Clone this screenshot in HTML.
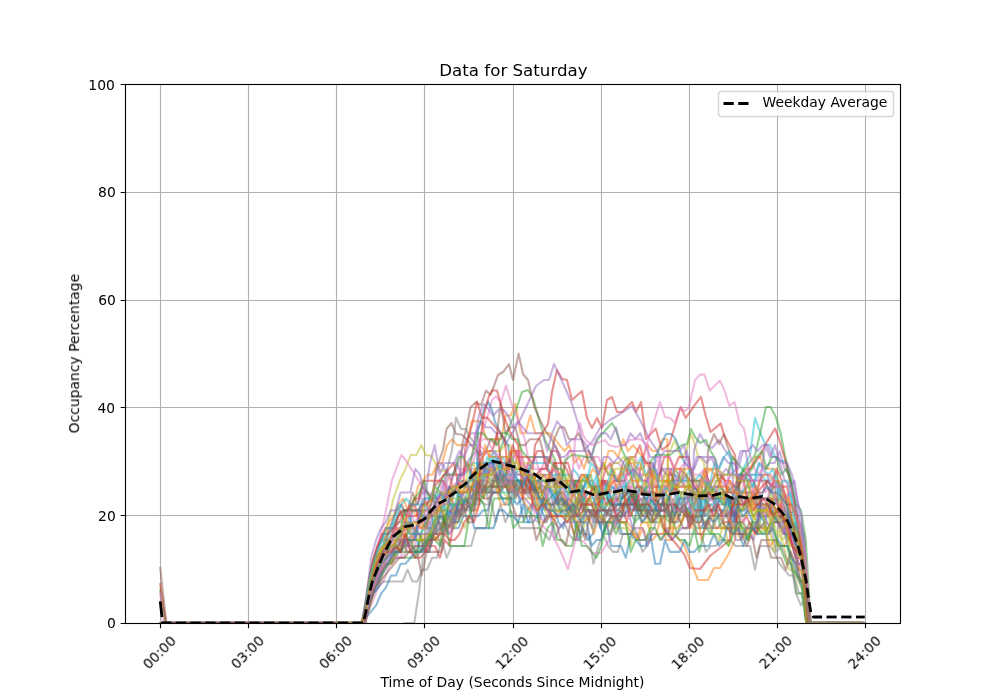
<!DOCTYPE html>
<html><head><meta charset="utf-8"><title>Data for Saturday</title><style>html,body{margin:0;padding:0;background:#fff;overflow:hidden}svg{display:block}text{will-change:transform}</style></head><body>
<svg width="1000" height="700" viewBox="0 0 1000 700">
<rect width="1000" height="700" fill="#fff"/>
<defs><clipPath id="ax"><rect x="125" y="84" width="775" height="539"/></clipPath></defs>
<path d="M160.5 84V623M248.5 84V623M336.5 84V623M424.5 84V623M513.5 84V623M601.5 84V623M689.5 84V623M777.5 84V623M865.5 84V623M125 192.5H900M125 300.5H900M125 407.5H900M125 515.5H900" fill="none" stroke="#b0b0b0" stroke-width="1.1111"/>
<path d="M160.5 623.5v4.8611M248.5 623.5v4.8611M336.5 623.5v4.8611M424.5 623.5v4.8611M513.5 623.5v4.8611M601.5 623.5v4.8611M689.5 623.5v4.8611M777.5 623.5v4.8611M865.5 623.5v4.8611M125.5 84.5h-4.8611M125.5 192.5h-4.8611M125.5 300.5h-4.8611M125.5 407.5h-4.8611M125.5 515.5h-4.8611M125.5 623.5h-4.8611" fill="none" stroke="#000" stroke-width="1.1111"/>
<g clip-path="url(#ax)" fill="none" stroke-width="2.0833" stroke-linecap="square" stroke-linejoin="round" stroke-opacity="0.5">
<polyline stroke="#1f77b4" points="164.90,623.00 169.80,623.00 174.69,623.00 179.58,623.00 184.48,623.00 189.37,623.00 194.26,623.00 199.15,623.00 204.05,623.00 208.94,623.00 213.83,623.00 218.72,623.00 223.62,623.00 228.51,623.00 233.40,623.00 238.29,623.00 243.19,623.00 248.08,623.00 252.97,623.00 257.87,623.00 262.76,623.00 267.65,623.00 272.54,623.00 277.44,623.00 282.33,623.00 287.22,623.00 292.11,623.00 297.01,623.00 301.90,623.00 306.79,623.00 311.68,623.00 316.58,623.00 321.47,623.00 326.36,623.00 331.26,623.00 336.15,623.00 341.04,623.00 345.93,623.00 350.83,623.00 355.72,623.00 360.61,623.00 365.50,623.00 370.40,581.50 375.29,557.78 380.18,551.85 385.08,539.99 389.97,539.99 394.86,534.07 399.75,528.14 404.65,528.14 409.54,522.21 414.43,528.14 419.32,534.07 424.22,551.85 429.11,551.85 434.00,534.07 438.89,528.14 443.79,522.21 448.68,534.07 453.57,528.14 458.47,528.14 463.36,516.28 468.25,516.28 473.14,516.28 478.04,516.28 482.93,510.35 487.82,510.35 492.71,492.56 497.61,492.56 502.50,498.49 507.39,498.49 512.28,498.49 517.18,504.42 522.07,498.49 526.96,510.35 531.86,504.42 536.75,504.42 541.64,510.35 546.53,522.21 551.43,510.35 556.32,510.35 561.21,510.35 566.10,516.28 571.00,516.28 575.89,522.21 580.78,534.07 585.67,510.35 590.57,510.35 595.46,510.35 600.35,528.14 605.25,510.35 610.14,510.35 615.03,528.14 619.92,510.35 624.82,516.28 629.71,498.49 634.60,510.35 639.49,504.42 644.39,504.42 649.28,510.35 654.17,510.35 659.07,498.49 663.96,498.49 668.85,498.49 673.74,486.63 678.64,492.56 683.53,492.56 688.42,522.21 693.31,492.56 698.21,498.49 703.10,492.56 707.99,486.63 712.88,498.49 717.78,504.42 722.67,492.56 727.56,492.56 732.46,486.63 737.35,486.63 742.24,480.70 747.13,480.70 752.03,498.49 756.92,498.49 761.81,498.49 766.70,498.49 771.60,498.49 776.49,516.28 781.38,516.28 786.27,539.99 791.17,557.78 796.06,563.71 800.95,581.50 805.85,581.50 810.74,623.00 815.63,623.00 820.52,623.00 825.42,623.00 830.31,623.00 835.20,623.00 840.09,623.00 844.99,623.00 849.88,623.00 854.77,623.00 859.66,623.00 864.56,623.00"/>
<polyline stroke="#ff7f0e" points="163.33,623.00 168.22,623.00 173.11,623.00 178.01,623.00 182.90,623.00 187.79,623.00 192.68,623.00 197.58,623.00 202.47,623.00 207.36,623.00 212.25,623.00 217.15,623.00 222.04,623.00 226.93,623.00 231.83,623.00 236.72,623.00 241.61,623.00 246.50,623.00 251.40,623.00 256.29,623.00 261.18,623.00 266.07,623.00 270.97,623.00 275.86,623.00 280.75,623.00 285.65,623.00 290.54,623.00 295.43,623.00 300.32,623.00 305.22,623.00 310.11,623.00 315.00,623.00 319.89,623.00 324.79,623.00 329.68,623.00 334.57,623.00 339.46,623.00 344.36,623.00 349.25,623.00 354.14,623.00 359.04,623.00 363.93,623.00 368.82,581.50 373.71,557.78 378.61,545.92 383.50,534.07 388.39,522.21 393.28,516.28 398.18,504.42 403.07,498.49 407.96,510.35 412.85,510.35 417.75,486.63 422.64,480.70 427.53,474.77 432.43,474.77 437.32,462.92 442.21,462.92 447.10,445.13 452.00,439.20 456.89,445.13 461.78,445.13 466.67,445.13 471.57,421.41 476.46,421.41 481.35,421.41 486.24,439.20 491.14,439.20 496.03,439.20 500.92,439.20 505.82,415.49 510.71,415.49 515.60,403.63 520.49,433.27 525.39,433.27 530.28,415.49 535.17,433.27 540.06,433.27 544.96,433.27 549.85,433.27 554.74,439.20 559.64,445.13 564.53,451.06 569.42,445.13 574.31,462.92 579.21,456.99 584.10,468.85 588.99,451.06 593.88,462.92 598.78,468.85 603.67,468.85 608.56,451.06 613.45,451.06 618.35,456.99 623.24,439.20 628.13,451.06 633.03,445.13 637.92,451.06 642.81,456.99 647.70,445.13 652.60,451.06 657.49,451.06 662.38,439.20 667.27,439.20 670.00,530.00 684.00,545.00 690.00,560.00 698.00,580.00 708.00,580.00 714.00,568.00 720.00,568.00 728.00,555.00 735.00,540.00 740.66,474.77 745.56,468.85 750.45,468.85 755.34,456.99 760.23,456.99 765.13,468.85 770.02,468.85 774.91,468.85 779.81,486.63 784.70,492.56 789.59,510.35 794.48,528.14 799.38,522.21 804.27,545.92 809.16,623.00 814.05,623.00 818.95,623.00 823.84,623.00 828.73,623.00 833.62,623.00 838.52,623.00 843.41,623.00 848.30,623.00 853.20,623.00 858.09,623.00 862.98,623.00"/>
<polyline stroke="#2ca02c" points="160.23,590.12 165.36,623.00 170.26,623.00 175.15,623.00 180.04,623.00 184.94,623.00 189.83,623.00 194.72,623.00 199.61,623.00 204.51,623.00 209.40,623.00 214.29,623.00 219.18,623.00 224.08,623.00 228.97,623.00 233.86,623.00 238.75,623.00 243.65,623.00 248.54,623.00 253.43,623.00 258.33,623.00 263.22,623.00 268.11,623.00 273.00,623.00 277.90,623.00 282.79,623.00 287.68,623.00 292.57,623.00 297.47,623.00 302.36,623.00 307.25,623.00 312.14,623.00 317.04,623.00 321.93,623.00 326.82,623.00 331.72,623.00 336.61,623.00 341.50,623.00 346.39,623.00 351.29,623.00 356.18,623.00 361.07,623.00 365.96,617.07 370.86,593.36 375.75,581.50 380.64,569.64 385.54,563.71 390.43,563.71 395.32,557.78 400.21,557.78 405.11,557.78 410.00,557.78 414.89,557.78 419.78,539.99 424.68,539.99 429.57,539.99 434.46,528.14 439.35,522.21 444.25,528.14 449.14,498.49 454.03,516.28 458.93,498.49 463.82,492.56 468.71,492.56 473.60,486.63 478.50,486.63 483.39,468.85 488.28,468.85 493.17,468.85 498.07,486.63 500.00,450.00 508.00,430.00 516.00,410.00 522.00,392.00 528.00,390.00 533.00,398.00 538.00,416.00 545.00,440.00 555.00,460.00 556.78,492.56 561.67,516.28 566.56,516.28 571.46,510.35 576.35,498.49 581.24,522.21 586.13,504.42 591.03,504.42 595.92,510.35 600.81,510.35 605.71,534.07 610.60,534.07 615.49,516.28 620.38,516.28 625.28,504.42 630.17,510.35 635.06,522.21 639.95,516.28 644.85,504.42 649.74,522.21 654.63,522.21 659.52,522.21 664.42,516.28 669.31,522.21 674.20,504.42 679.10,516.28 683.99,504.42 688.88,510.35 693.77,516.28 698.67,510.35 703.56,492.56 708.45,492.56 713.34,498.49 718.24,498.49 723.13,504.42 728.02,504.42 732.92,516.28 737.81,510.35 742.70,534.07 747.59,539.99 752.49,528.14 757.38,534.07 762.27,510.35 767.16,539.99 772.06,539.99 776.95,539.99 781.84,551.85 786.73,563.71 791.63,563.71 796.52,593.36 801.41,593.36 806.31,623.00 811.20,623.00 816.09,623.00 820.98,623.00 825.88,623.00 830.77,623.00 835.66,623.00 840.55,623.00 845.45,623.00 850.34,623.00 855.23,623.00 860.12,623.00"/>
<polyline stroke="#d62728" points="160.23,584.19 165.94,623.00 170.83,623.00 175.72,623.00 180.61,623.00 185.51,623.00 190.40,623.00 195.29,623.00 200.18,623.00 205.08,623.00 209.97,623.00 214.86,623.00 219.75,623.00 224.65,623.00 229.54,623.00 234.43,623.00 239.33,623.00 244.22,623.00 249.11,623.00 254.00,623.00 258.90,623.00 263.79,623.00 268.68,623.00 273.57,623.00 278.47,623.00 283.36,623.00 288.25,623.00 293.14,623.00 298.04,623.00 302.93,623.00 307.82,623.00 312.72,623.00 317.61,623.00 322.50,623.00 327.39,623.00 332.29,623.00 337.18,623.00 342.07,623.00 346.96,623.00 351.86,623.00 356.75,623.00 361.64,623.00 366.54,605.21 371.43,575.57 376.32,557.78 381.21,551.85 386.11,545.92 391.00,539.99 395.89,528.14 400.78,534.07 405.68,528.14 410.57,534.07 415.46,534.07 420.35,534.07 425.25,551.85 430.14,545.92 435.03,545.92 439.93,557.78 444.82,539.99 449.71,545.92 454.60,516.28 459.50,504.42 464.39,504.42 469.28,504.42 474.17,504.42 479.07,474.77 483.96,498.49 488.85,498.49 493.74,492.56 498.64,492.56 503.53,480.70 508.42,492.56 513.32,480.70 518.21,486.63 523.10,480.70 527.99,462.92 532.89,468.85 535.00,445.00 548.00,424.00 552.00,392.00 557.00,370.00 562.00,379.00 567.00,380.00 572.00,400.00 582.00,391.00 587.00,418.00 592.00,428.00 597.00,418.00 602.00,428.00 607.00,400.00 612.00,397.00 617.00,412.00 622.00,412.00 632.00,402.00 636.00,412.00 641.00,402.00 646.00,439.00 655.70,428.50 662.00,450.00 669.40,444.00 680.60,407.00 685.70,418.00 695.00,404.60 701.00,396.80 705.40,414.80 710.50,432.00 720.80,423.40 724.00,435.00 735.00,455.00 738.38,486.63 743.27,474.77 748.16,480.70 753.06,480.70 757.95,492.56 762.84,492.56 767.73,480.70 772.63,486.63 777.52,486.63 782.41,486.63 787.31,486.63 792.20,522.21 797.09,528.14 801.98,545.92 806.88,623.00 811.77,623.00 816.66,623.00 821.55,623.00 826.45,623.00 831.34,623.00 836.23,623.00 841.12,623.00 846.02,623.00 850.91,623.00 855.80,623.00 860.70,623.00"/>
<polyline stroke="#9467bd" points="163.15,623.00 168.04,623.00 172.94,623.00 177.83,623.00 182.72,623.00 187.61,623.00 192.51,623.00 197.40,623.00 202.29,623.00 207.18,623.00 212.08,623.00 216.97,623.00 221.86,623.00 226.76,623.00 231.65,623.00 236.54,623.00 241.43,623.00 246.33,623.00 251.22,623.00 256.11,623.00 261.00,623.00 265.90,623.00 270.79,623.00 275.68,623.00 280.57,623.00 285.47,623.00 290.36,623.00 295.25,623.00 300.15,623.00 305.04,623.00 309.93,623.00 314.82,623.00 319.72,623.00 324.61,623.00 329.50,623.00 334.39,623.00 339.29,623.00 344.18,623.00 349.07,623.00 353.96,623.00 358.86,623.00 363.75,623.00 368.64,605.21 373.54,587.43 378.43,575.57 383.32,563.71 388.21,551.85 393.11,551.85 398.00,551.85 402.89,528.14 407.78,522.21 412.68,504.42 417.57,504.42 422.46,492.56 427.36,492.56 432.25,498.49 437.14,468.85 442.03,462.92 446.93,474.77 451.82,474.77 456.71,468.85 461.60,451.06 466.50,439.20 471.39,433.27 476.28,433.27 481.17,421.41 486.07,427.34 490.96,427.34 495.85,433.27 500.75,433.27 505.00,445.00 520.00,420.00 536.00,386.00 544.00,380.00 549.00,380.00 554.00,364.00 560.00,377.00 566.00,390.00 572.00,404.00 580.00,430.00 584.00,450.00 592.00,442.00 600.00,428.00 610.00,420.00 620.00,414.00 632.00,406.00 640.00,420.00 650.00,440.00 660.00,455.00 662.20,480.70 667.10,480.70 671.99,486.63 676.88,486.63 681.77,486.63 686.67,486.63 691.56,492.56 696.45,492.56 701.34,492.56 706.24,492.56 711.13,492.56 716.02,480.70 720.92,480.70 725.81,486.63 730.70,474.77 735.59,474.77 740.49,474.77 745.38,474.77 750.27,474.77 755.16,474.77 760.06,462.92 764.95,468.85 769.84,462.92 774.74,462.92 779.63,451.06 784.52,468.85 789.41,474.77 794.31,498.49 799.20,522.21 804.09,534.07 808.98,623.00 813.88,623.00 818.77,623.00 823.66,623.00 828.55,623.00 833.45,623.00 838.34,623.00 843.23,623.00 848.13,623.00 853.02,623.00 857.91,623.00 862.80,623.00"/>
<polyline stroke="#8c564b" points="160.23,568.02 166.34,623.00 171.24,623.00 176.13,623.00 181.02,623.00 185.91,623.00 190.81,623.00 195.70,623.00 200.59,623.00 205.48,623.00 210.38,623.00 215.27,623.00 220.16,623.00 225.06,623.00 229.95,623.00 234.84,623.00 239.73,623.00 244.63,623.00 249.52,623.00 254.41,623.00 259.30,623.00 264.20,623.00 269.09,623.00 273.98,623.00 278.87,623.00 283.77,623.00 288.66,623.00 293.55,623.00 298.45,623.00 303.34,623.00 308.23,623.00 313.12,623.00 318.02,623.00 322.91,623.00 327.80,623.00 332.69,623.00 337.59,623.00 342.48,623.00 347.37,623.00 352.26,623.00 357.16,623.00 362.05,623.00 366.94,599.28 371.84,569.64 376.73,557.78 381.62,551.85 386.51,545.92 391.41,539.99 396.30,539.99 401.19,534.07 406.08,522.21 410.98,528.14 415.87,528.14 420.76,522.21 425.65,528.14 430.55,510.35 435.44,534.07 440.33,510.35 445.23,498.49 450.12,486.63 455.01,492.56 459.90,480.70 462.00,445.00 466.00,430.00 470.50,407.50 475.50,402.50 481.00,405.00 486.00,390.50 490.50,395.00 494.00,386.00 498.00,375.00 503.00,372.00 509.00,364.00 513.00,380.00 518.60,353.60 523.00,374.00 528.00,380.00 534.00,406.00 540.00,420.00 545.00,430.00 552.00,440.00 560.00,455.00 562.65,486.63 567.54,492.56 572.44,492.56 577.33,492.56 582.22,510.35 587.11,504.42 592.01,504.42 596.90,498.49 601.79,498.49 606.68,498.49 611.58,504.42 616.47,486.63 621.36,498.49 626.25,492.56 631.15,492.56 636.04,510.35 640.93,510.35 645.83,504.42 650.72,486.63 655.61,486.63 660.50,486.63 665.40,510.35 670.29,492.56 675.18,486.63 680.07,492.56 684.97,492.56 689.86,486.63 694.75,486.63 699.64,492.56 704.54,492.56 709.43,498.49 714.32,498.49 719.22,498.49 724.11,498.49 729.00,498.49 733.89,516.28 738.79,492.56 743.68,498.49 748.57,504.42 753.46,492.56 758.36,516.28 763.25,510.35 768.14,516.28 773.04,504.42 777.93,516.28 782.82,516.28 787.71,534.07 792.61,545.92 797.50,563.71 802.39,563.71 807.28,623.00 812.18,623.00 817.07,623.00 821.96,623.00 826.85,623.00 831.75,623.00 836.64,623.00 841.53,623.00 846.43,623.00 851.32,623.00 856.21,623.00 861.10,623.00"/>
<polyline stroke="#e377c2" points="160.23,593.36 163.08,623.00 167.97,623.00 172.87,623.00 177.76,623.00 182.65,623.00 187.54,623.00 192.44,623.00 197.33,623.00 202.22,623.00 207.12,623.00 212.01,623.00 216.90,623.00 221.79,623.00 226.69,623.00 231.58,623.00 236.47,623.00 241.36,623.00 246.26,623.00 251.15,623.00 256.04,623.00 260.93,623.00 265.83,623.00 270.72,623.00 275.61,623.00 280.51,623.00 285.40,623.00 290.29,623.00 295.18,623.00 300.08,623.00 304.97,623.00 309.86,623.00 314.75,623.00 319.65,623.00 324.54,623.00 329.43,623.00 334.33,623.00 339.22,623.00 344.11,623.00 349.00,623.00 353.90,623.00 358.79,623.00 363.68,623.00 368.57,611.14 373.47,599.28 378.36,587.43 383.25,581.50 388.14,569.64 393.04,557.78 397.93,557.78 402.82,557.78 407.72,545.92 412.61,534.07 417.50,551.85 422.39,551.85 427.29,539.99 432.18,528.14 437.07,528.14 441.96,510.35 446.86,510.35 451.75,498.49 456.64,510.35 461.53,492.56 466.43,498.49 471.32,498.49 476.21,486.63 480.00,440.00 488.00,415.00 492.00,400.00 496.00,396.50 501.00,402.00 506.00,385.50 512.00,405.00 518.00,420.00 525.00,440.00 530.03,468.85 534.92,468.85 539.82,468.85 544.71,468.85 549.60,456.99 554.50,462.92 559.39,480.70 564.28,468.85 569.17,451.06 574.07,451.06 578.96,468.85 583.85,456.99 588.74,456.99 593.64,456.99 598.53,456.99 603.42,468.85 608.31,468.85 613.21,462.92 618.10,462.92 622.99,468.85 627.89,468.85 632.78,474.77 637.67,468.85 642.56,480.70 647.46,480.70 652.35,474.77 657.24,456.99 662.13,480.70 667.03,468.85 671.92,474.77 676.81,486.63 681.71,486.63 686.60,480.70 691.49,480.70 696.38,486.63 701.28,486.63 706.17,474.77 711.06,486.63 715.95,492.56 720.85,492.56 725.74,492.56 730.63,462.92 735.52,462.92 740.42,498.49 745.31,474.77 750.20,474.77 755.10,504.42 759.99,504.42 764.88,516.28 769.77,486.63 774.67,480.70 779.56,492.56 784.45,510.35 789.34,522.21 794.24,539.99 799.13,557.78 804.02,563.71 808.91,623.00 813.81,623.00 818.70,623.00 823.59,623.00 828.49,623.00 833.38,623.00 838.27,623.00 843.16,623.00 848.06,623.00 852.95,623.00 857.84,623.00"/>
<polyline stroke="#7f7f7f" points="162.93,623.00 167.82,623.00 172.71,623.00 177.60,623.00 182.50,623.00 187.39,623.00 192.28,623.00 197.17,623.00 202.07,623.00 206.96,623.00 211.85,623.00 216.75,623.00 221.64,623.00 226.53,623.00 231.42,623.00 236.32,623.00 241.21,623.00 246.10,623.00 250.99,623.00 255.89,623.00 260.78,623.00 265.67,623.00 270.57,623.00 275.46,623.00 280.35,623.00 285.24,623.00 290.14,623.00 295.03,623.00 299.92,623.00 304.81,623.00 309.71,623.00 314.60,623.00 319.49,623.00 324.38,623.00 329.28,623.00 334.17,623.00 339.06,623.00 343.96,623.00 348.85,623.00 353.74,623.00 358.63,623.00 363.53,623.00 368.42,605.21 373.31,593.36 378.20,587.43 383.10,581.50 387.99,581.50 392.88,581.50 397.77,581.50 402.67,581.50 407.56,569.64 412.45,581.50 417.35,581.50 422.24,569.64 427.13,569.64 432.02,557.78 436.92,557.78 441.81,539.99 446.70,557.78 451.59,545.92 456.49,545.92 461.38,545.92 466.27,545.92 471.16,545.92 476.06,528.14 480.95,528.14 485.84,528.14 490.74,498.49 495.63,522.21 500.52,504.42 505.41,522.21 510.31,510.35 515.20,516.28 520.09,528.14 524.98,528.14 529.88,528.14 534.77,528.14 539.66,528.14 544.55,534.07 549.45,539.99 554.34,522.21 559.23,528.14 564.13,522.21 569.02,534.07 573.91,539.99 578.80,539.99 583.70,534.07 588.59,534.07 593.48,563.71 598.37,545.92 603.27,534.07 608.16,545.92 613.05,551.85 617.95,551.85 622.84,534.07 627.73,534.07 632.62,534.07 637.52,534.07 642.41,551.85 647.30,545.92 652.19,534.07 657.09,534.07 661.98,534.07 666.87,534.07 671.76,539.99 676.66,534.07 681.55,534.07 686.44,534.07 691.34,534.07 696.23,534.07 701.12,534.07 706.01,551.85 710.91,545.92 715.80,545.92 720.69,539.99 725.58,539.99 730.48,539.99 735.37,545.92 740.26,545.92 745.15,545.92 750.05,545.92 754.94,569.64 759.83,545.92 764.73,545.92 769.62,545.92 774.51,551.85 779.40,563.71 784.30,569.64 789.19,575.57 794.08,575.57 798.97,593.36 803.87,593.36 808.76,623.00 813.65,623.00 818.54,623.00 823.44,623.00 828.33,623.00 833.22,623.00 838.12,623.00 843.01,623.00 847.90,623.00 852.79,623.00 857.69,623.00 862.58,623.00"/>
<polyline stroke="#bcbd22" points="162.58,623.00 167.47,623.00 172.36,623.00 177.25,623.00 182.15,623.00 187.04,623.00 191.93,623.00 196.82,623.00 201.72,623.00 206.61,623.00 211.50,623.00 216.40,623.00 221.29,623.00 226.18,623.00 231.07,623.00 235.97,623.00 240.86,623.00 245.75,623.00 250.64,623.00 255.54,623.00 260.43,623.00 265.32,623.00 270.21,623.00 275.11,623.00 280.00,623.00 284.89,623.00 289.79,623.00 294.68,623.00 299.57,623.00 304.46,623.00 309.36,623.00 314.25,623.00 319.14,623.00 324.03,623.00 328.93,623.00 333.82,623.00 338.71,623.00 343.61,623.00 348.50,623.00 353.39,623.00 358.28,623.00 363.18,623.00 368.07,599.28 372.20,590.00 385.00,540.00 392.90,500.00 400.00,480.00 405.00,470.00 410.70,455.00 416.40,455.00 421.40,445.00 425.70,455.00 431.40,455.70 435.70,464.00 440.00,470.00 445.70,471.40 455.00,490.00 456.14,492.56 461.03,492.56 465.92,492.56 470.81,492.56 475.71,474.77 480.60,462.92 485.49,474.77 490.39,451.06 495.28,451.06 500.17,451.06 505.06,445.13 509.96,445.13 514.85,468.85 519.74,445.13 524.63,468.85 529.53,468.85 534.42,480.70 539.31,480.70 544.20,480.70 549.10,480.70 553.99,486.63 558.88,474.77 563.78,468.85 568.67,486.63 573.56,480.70 578.45,492.56 583.35,492.56 588.24,486.63 593.13,486.63 598.02,492.56 602.92,480.70 607.81,486.63 612.70,492.56 617.60,492.56 622.49,510.35 627.38,486.63 632.27,480.70 637.17,510.35 642.06,522.21 646.95,522.21 651.84,522.21 656.74,504.42 661.63,504.42 666.52,498.49 671.41,528.14 676.31,510.35 681.20,510.35 686.09,516.28 690.99,516.28 695.88,516.28 700.77,516.28 705.66,522.21 710.56,516.28 715.45,516.28 720.34,516.28 725.23,528.14 730.13,522.21 735.02,528.14 739.91,528.14 744.80,528.14 749.70,528.14 754.59,516.28 759.48,534.07 764.38,528.14 769.27,528.14 774.16,551.85 779.05,534.07 783.95,545.92 788.84,569.64 793.73,569.64 798.62,581.50 803.52,593.36 808.41,623.00 813.30,623.00 818.19,623.00 823.09,623.00 827.98,623.00 832.87,623.00 837.77,623.00 842.66,623.00 847.55,623.00 852.44,623.00 857.34,623.00 862.23,623.00"/>
<polyline stroke="#17becf" points="162.05,623.00 166.95,623.00 171.84,623.00 176.73,623.00 181.63,623.00 186.52,623.00 191.41,623.00 196.30,623.00 201.20,623.00 206.09,623.00 210.98,623.00 215.87,623.00 220.77,623.00 225.66,623.00 230.55,623.00 235.44,623.00 240.34,623.00 245.23,623.00 250.12,623.00 255.02,623.00 259.91,623.00 264.80,623.00 269.69,623.00 274.59,623.00 279.48,623.00 284.37,623.00 289.26,623.00 294.16,623.00 299.05,623.00 303.94,623.00 308.83,623.00 313.73,623.00 318.62,623.00 323.51,623.00 328.41,623.00 333.30,623.00 338.19,623.00 343.08,623.00 347.98,623.00 352.87,623.00 357.76,623.00 362.65,623.00 367.55,593.36 372.44,569.64 377.33,551.85 382.22,545.92 387.12,539.99 392.01,534.07 396.90,522.21 401.80,522.21 406.69,510.35 411.58,522.21 416.47,522.21 421.37,516.28 426.26,516.28 431.15,510.35 436.04,510.35 440.94,504.42 445.83,504.42 450.72,498.49 455.62,516.28 460.51,498.49 465.40,510.35 470.29,504.42 475.19,504.42 480.08,504.42 484.97,468.85 489.86,474.77 494.76,456.99 499.65,468.85 504.54,462.92 509.43,462.92 514.33,474.77 519.22,468.85 524.11,480.70 529.01,480.70 533.90,480.70 538.79,498.49 543.68,492.56 548.58,480.70 553.47,480.70 558.36,480.70 563.25,504.42 568.15,492.56 573.04,468.85 577.93,474.77 582.82,492.56 587.72,474.77 592.61,492.56 597.50,480.70 602.40,480.70 607.29,486.63 612.18,486.63 617.07,492.56 621.97,468.85 626.86,486.63 631.75,498.49 636.64,486.63 641.54,492.56 646.43,486.63 651.32,486.63 656.21,486.63 661.11,486.63 666.00,480.70 670.89,480.70 675.79,474.77 680.68,480.70 685.57,480.70 690.46,480.70 695.36,480.70 700.25,492.56 705.14,492.56 710.03,492.56 714.93,486.63 719.82,486.63 724.71,492.56 729.60,504.42 734.50,504.42 740.00,475.00 750.00,455.00 755.00,418.00 760.00,432.00 765.40,444.80 769.70,444.80 775.70,457.70 780.80,461.00 786.00,461.00 792.00,490.00 802.60,545.00 807.89,623.00 812.78,623.00 817.67,623.00 822.57,623.00 827.46,623.00 832.35,623.00 837.24,623.00 842.14,623.00 847.03,623.00 851.92,623.00 856.81,623.00 861.71,623.00"/>
<polyline stroke="#1f77b4" points="163.09,623.00 167.98,623.00 172.87,623.00 177.76,623.00 182.66,623.00 187.55,623.00 192.44,623.00 197.33,623.00 202.23,623.00 207.12,623.00 212.01,623.00 216.91,623.00 221.80,623.00 226.69,623.00 231.58,623.00 236.48,623.00 241.37,623.00 246.26,623.00 251.15,623.00 256.05,623.00 260.94,623.00 265.83,623.00 270.72,623.00 275.62,623.00 280.51,623.00 285.40,623.00 290.30,623.00 295.19,623.00 300.08,623.00 304.97,623.00 309.87,623.00 314.76,623.00 319.65,623.00 324.54,623.00 329.44,623.00 334.33,623.00 339.22,623.00 344.11,623.00 349.01,623.00 353.90,623.00 358.79,623.00 363.69,623.00 368.58,605.21 373.47,593.36 378.36,587.43 383.26,569.64 388.15,563.71 393.04,551.85 397.93,545.92 402.83,539.99 407.72,534.07 412.61,510.35 417.51,510.35 422.40,504.42 427.29,504.42 432.18,492.56 437.08,498.49 441.97,498.49 446.86,492.56 451.75,492.56 456.65,492.56 461.54,486.63 466.43,486.63 471.32,474.77 476.22,492.56 478.00,430.00 484.00,410.00 488.00,401.50 492.00,410.00 495.00,422.00 500.00,432.00 508.00,445.00 510.47,462.92 515.36,480.70 520.25,480.70 525.14,492.56 530.04,486.63 534.93,492.56 539.82,504.42 544.71,510.35 549.61,486.63 554.50,492.56 559.39,510.35 564.29,504.42 569.18,510.35 574.07,504.42 578.96,510.35 583.86,498.49 588.75,492.56 593.64,498.49 598.53,516.28 603.43,480.70 608.32,492.56 613.21,486.63 618.10,504.42 623.00,504.42 627.89,504.42 632.78,510.35 637.68,504.42 642.57,516.28 647.46,510.35 652.35,516.28 657.25,504.42 662.14,492.56 667.03,486.63 671.92,480.70 676.82,504.42 681.71,510.35 686.60,510.35 691.49,504.42 696.39,510.35 701.28,492.56 706.17,504.42 711.07,498.49 715.96,498.49 720.85,498.49 725.74,498.49 730.64,498.49 735.53,498.49 740.42,492.56 745.31,492.56 750.21,492.56 755.10,492.56 759.99,516.28 764.89,522.21 769.78,504.42 774.67,522.21 779.56,522.21 784.46,522.21 789.35,510.35 794.24,539.99 799.13,545.92 804.03,557.78 808.92,623.00 813.81,623.00 818.70,623.00 823.60,623.00 828.49,623.00 833.38,623.00 838.28,623.00 843.17,623.00 848.06,623.00 852.95,623.00 857.85,623.00 862.74,623.00"/>
<polyline stroke="#ff7f0e" points="162.20,623.00 167.10,623.00 171.99,623.00 176.88,623.00 181.78,623.00 186.67,623.00 191.56,623.00 196.45,623.00 201.35,623.00 206.24,623.00 211.13,623.00 216.02,623.00 220.92,623.00 225.81,623.00 230.70,623.00 235.59,623.00 240.49,623.00 245.38,623.00 250.27,623.00 255.17,623.00 260.06,623.00 264.95,623.00 269.84,623.00 274.74,623.00 279.63,623.00 284.52,623.00 289.41,623.00 294.31,623.00 299.20,623.00 304.09,623.00 308.99,623.00 313.88,623.00 318.77,623.00 323.66,623.00 328.56,623.00 333.45,623.00 338.34,623.00 343.23,623.00 348.13,623.00 353.02,623.00 357.91,623.00 362.80,623.00 367.70,611.14 372.59,593.36 377.48,581.50 382.38,569.64 387.27,563.71 392.16,563.71 397.05,551.85 401.95,539.99 406.84,545.92 411.73,545.92 416.62,522.21 421.52,528.14 426.41,516.28 431.30,516.28 436.19,516.28 441.09,504.42 445.98,504.42 450.87,498.49 455.77,510.35 460.66,480.70 465.55,480.70 470.44,480.70 475.34,468.85 480.23,480.70 485.12,480.70 490.01,468.85 494.91,474.77 499.80,480.70 504.69,480.70 509.58,480.70 514.48,492.56 519.37,486.63 524.26,492.56 529.16,486.63 534.05,498.49 538.94,498.49 543.83,504.42 548.73,504.42 553.62,522.21 558.51,510.35 563.40,510.35 568.30,510.35 573.19,516.28 578.08,522.21 582.97,510.35 587.87,510.35 592.76,516.28 597.65,516.28 602.55,516.28 607.44,528.14 612.33,516.28 617.22,516.28 622.12,522.21 627.01,522.21 631.90,528.14 636.79,539.99 641.69,522.21 646.58,522.21 651.47,534.07 656.37,534.07 661.26,516.28 666.15,539.99 671.04,539.99 675.94,516.28 680.83,522.21 685.72,510.35 690.61,516.28 695.51,522.21 700.40,522.21 705.29,510.35 710.18,510.35 715.08,510.35 719.97,516.28 724.86,510.35 729.76,522.21 734.65,528.14 739.54,510.35 744.43,504.42 749.33,510.35 754.22,516.28 759.11,510.35 764.00,510.35 768.90,510.35 773.79,516.28 778.68,516.28 783.57,516.28 788.47,528.14 793.36,522.21 798.25,551.85 803.15,551.85 808.04,623.00 812.93,623.00 817.82,623.00 822.72,623.00 827.61,623.00 832.50,623.00 837.39,623.00 842.29,623.00 847.18,623.00 852.07,623.00 856.96,623.00 861.86,623.00"/>
<polyline stroke="#2ca02c" points="163.11,623.00 168.00,623.00 172.90,623.00 177.79,623.00 182.68,623.00 187.58,623.00 192.47,623.00 197.36,623.00 202.25,623.00 207.15,623.00 212.04,623.00 216.93,623.00 221.82,623.00 226.72,623.00 231.61,623.00 236.50,623.00 241.40,623.00 246.29,623.00 251.18,623.00 256.07,623.00 260.97,623.00 265.86,623.00 270.75,623.00 275.64,623.00 280.54,623.00 285.43,623.00 290.32,623.00 295.21,623.00 300.11,623.00 305.00,623.00 309.89,623.00 314.79,623.00 319.68,623.00 324.57,623.00 329.46,623.00 334.36,623.00 339.25,623.00 344.14,623.00 349.03,623.00 353.93,623.00 358.82,623.00 363.71,623.00 368.60,599.28 373.50,587.43 378.39,575.57 383.28,569.64 388.18,563.71 393.07,557.78 397.96,551.85 402.85,551.85 407.75,551.85 412.64,551.85 417.53,551.85 422.42,528.14 427.32,522.21 432.21,510.35 437.10,498.49 441.99,510.35 446.89,510.35 451.78,492.56 456.67,492.56 461.57,504.42 466.46,504.42 471.35,486.63 476.24,498.49 481.14,480.70 486.03,474.77 490.92,480.70 495.81,480.70 500.71,492.56 505.60,468.85 510.49,492.56 515.39,480.70 520.28,480.70 525.17,480.70 530.06,474.77 534.96,492.56 539.85,486.63 544.74,504.42 549.63,498.49 554.53,492.56 559.42,492.56 564.31,492.56 569.20,510.35 574.10,510.35 578.99,492.56 583.88,498.49 588.78,510.35 593.67,510.35 598.56,498.49 603.45,510.35 608.35,504.42 613.24,498.49 618.13,498.49 623.02,498.49 627.92,492.56 632.81,492.56 637.70,510.35 642.59,510.35 647.49,504.42 652.38,510.35 657.27,516.28 662.17,516.28 667.06,516.28 671.95,516.28 676.84,534.07 681.74,522.21 686.63,510.35 691.52,516.28 696.41,528.14 701.31,528.14 706.20,528.14 711.09,534.07 715.98,510.35 720.88,528.14 725.77,528.14 730.66,528.14 735.56,528.14 740.00,475.00 755.00,455.00 760.00,433.70 766.00,407.00 770.50,407.00 775.70,416.60 780.80,433.70 785.00,456.00 789.40,473.00 797.00,520.00 802.60,560.00 804.05,581.50 808.95,623.00 813.84,623.00 818.73,623.00 823.62,623.00 828.52,623.00 833.41,623.00 838.30,623.00 843.19,623.00 848.09,623.00 852.98,623.00 857.87,623.00 862.77,623.00"/>
<polyline stroke="#d62728" points="161.91,623.00 166.81,623.00 171.70,623.00 176.59,623.00 181.49,623.00 186.38,623.00 191.27,623.00 196.16,623.00 201.06,623.00 205.95,623.00 210.84,623.00 215.73,623.00 220.63,623.00 225.52,623.00 230.41,623.00 235.30,623.00 240.20,623.00 245.09,623.00 249.98,623.00 254.88,623.00 259.77,623.00 264.66,623.00 269.55,623.00 274.45,623.00 279.34,623.00 284.23,623.00 289.12,623.00 294.02,623.00 298.91,623.00 303.80,623.00 308.69,623.00 313.59,623.00 318.48,623.00 323.37,623.00 328.27,623.00 333.16,623.00 338.05,623.00 342.94,623.00 347.84,623.00 352.73,623.00 357.62,623.00 362.51,623.00 367.41,587.43 372.30,563.71 377.19,545.92 382.08,534.07 386.98,534.07 391.87,522.21 396.76,510.35 401.66,504.42 406.55,516.28 411.44,516.28 416.33,516.28 421.23,504.42 426.12,504.42 431.01,498.49 435.90,504.42 440.80,492.56 445.69,498.49 450.58,492.56 455.48,492.56 460.37,492.56 465.26,492.56 470.15,486.63 475.05,492.56 479.94,492.56 484.83,492.56 489.72,468.85 494.62,468.85 499.51,492.56 504.40,486.63 509.29,480.70 514.19,492.56 519.08,492.56 523.97,492.56 528.87,492.56 533.76,474.77 538.65,474.77 543.54,474.77 548.44,480.70 553.33,462.92 558.22,462.92 563.11,462.92 568.01,462.92 572.90,480.70 577.79,480.70 582.68,486.63 587.58,504.42 592.47,486.63 597.36,498.49 602.26,480.70 607.15,480.70 612.04,504.42 616.93,498.49 621.83,504.42 626.72,522.21 631.61,498.49 636.50,486.63 641.40,486.63 646.29,504.42 651.18,498.49 656.07,498.49 660.97,492.56 665.86,492.56 670.75,468.85 675.65,492.56 680.54,468.85 685.43,474.77 690.32,480.70 695.22,480.70 700.11,480.70 705.00,468.85 709.89,486.63 714.79,474.77 719.68,474.77 724.57,480.70 729.46,480.70 734.36,486.63 739.25,474.77 745.00,475.00 760.00,456.00 765.00,445.00 775.00,428.50 779.00,438.80 785.00,459.00 792.00,490.00 802.60,550.00 807.75,623.00 812.64,623.00 817.53,623.00 822.43,623.00 827.32,623.00 832.21,623.00 837.10,623.00 842.00,623.00 846.89,623.00 851.78,623.00 856.67,623.00 861.57,623.00"/>
<polyline stroke="#9467bd" points="161.82,623.00 166.71,623.00 171.60,623.00 176.49,623.00 181.39,623.00 186.28,623.00 191.17,623.00 196.07,623.00 200.96,623.00 205.85,623.00 210.74,623.00 215.64,623.00 220.53,623.00 225.42,623.00 230.31,623.00 235.21,623.00 240.10,623.00 244.99,623.00 249.88,623.00 254.78,623.00 259.67,623.00 264.56,623.00 269.46,623.00 274.35,623.00 279.24,623.00 284.13,623.00 289.03,623.00 293.92,623.00 298.81,623.00 303.70,623.00 308.60,623.00 313.49,623.00 318.38,623.00 323.27,623.00 328.17,623.00 333.06,623.00 337.95,623.00 342.85,623.00 347.74,623.00 352.63,623.00 357.52,623.00 362.42,623.00 367.31,605.21 372.20,587.43 377.09,575.57 381.99,563.71 386.88,551.85 391.77,545.92 396.67,539.99 401.56,545.92 406.45,545.92 411.34,545.92 416.24,551.85 421.13,551.85 426.02,545.92 430.91,545.92 435.81,522.21 440.70,522.21 445.59,522.21 450.48,510.35 455.38,522.21 460.27,510.35 465.16,498.49 470.06,498.49 474.95,492.56 479.84,480.70 484.73,480.70 489.63,468.85 494.52,462.92 499.41,456.99 504.30,468.85 509.20,468.85 514.09,492.56 518.98,492.56 523.87,492.56 528.77,492.56 533.66,486.63 538.55,480.70 543.45,480.70 548.34,486.63 553.23,504.42 558.12,498.49 563.02,498.49 567.91,510.35 572.80,504.42 577.69,504.42 582.59,504.42 587.48,510.35 592.37,510.35 597.26,510.35 602.16,510.35 607.05,510.35 611.94,510.35 616.84,498.49 621.73,492.56 626.62,492.56 631.51,492.56 636.41,504.42 641.30,498.49 646.19,498.49 651.08,510.35 655.98,516.28 660.87,486.63 665.76,516.28 670.66,492.56 675.55,492.56 680.44,504.42 685.33,516.28 690.23,516.28 695.12,516.28 700.01,528.14 704.90,522.21 709.80,522.21 714.69,504.42 719.58,516.28 724.47,516.28 729.37,516.28 734.26,510.35 739.15,534.07 744.05,534.07 748.94,534.07 753.83,539.99 758.72,504.42 763.62,516.28 768.51,516.28 773.40,522.21 778.29,522.21 783.19,534.07 788.08,528.14 792.97,545.92 797.86,563.71 802.76,563.71 807.65,623.00 812.54,623.00 817.44,623.00 822.33,623.00 827.22,623.00 832.11,623.00 837.01,623.00 841.90,623.00 846.79,623.00 851.68,623.00 856.58,623.00 861.47,623.00"/>
<polyline stroke="#8c564b" points="162.97,623.00 167.86,623.00 172.75,623.00 177.64,623.00 182.54,623.00 187.43,623.00 192.32,623.00 197.21,623.00 202.11,623.00 207.00,623.00 211.89,623.00 216.79,623.00 221.68,623.00 226.57,623.00 231.46,623.00 236.36,623.00 241.25,623.00 246.14,623.00 251.03,623.00 255.93,623.00 260.82,623.00 265.71,623.00 270.60,623.00 275.50,623.00 280.39,623.00 285.28,623.00 290.18,623.00 295.07,623.00 299.96,623.00 304.85,623.00 309.75,623.00 314.64,623.00 319.53,623.00 324.42,623.00 329.32,623.00 334.21,623.00 339.10,623.00 343.99,623.00 348.89,623.00 353.78,623.00 358.67,623.00 363.57,623.00 368.46,587.43 373.35,563.71 378.24,545.92 383.14,539.99 388.03,534.07 392.92,528.14 397.81,516.28 402.71,510.35 407.60,510.35 412.49,492.56 417.38,504.42 422.28,486.63 427.17,492.56 432.06,498.49 436.00,470.00 443.00,450.00 446.50,429.00 451.50,423.00 456.00,434.00 461.50,434.50 466.50,439.00 472.00,446.00 480.00,455.00 485.88,451.06 490.78,439.20 495.67,445.13 500.56,403.63 505.45,433.27 510.35,427.34 515.24,427.34 520.13,445.13 525.02,445.13 529.92,439.20 534.81,439.20 539.70,439.20 544.59,456.99 549.49,462.92 554.38,439.20 559.27,427.34 564.17,427.34 569.06,439.20 573.95,439.20 578.84,433.27 583.74,445.13 588.63,462.92 593.52,456.99 598.41,474.77 603.31,462.92 608.20,474.77 613.09,474.77 617.98,480.70 622.88,462.92 627.77,456.99 632.66,468.85 637.56,486.63 642.45,456.99 647.34,462.92 652.23,462.92 657.13,480.70 662.02,468.85 666.91,474.77 671.80,474.77 676.70,486.63 681.59,480.70 686.48,474.77 691.37,498.49 696.27,498.49 701.16,498.49 706.05,492.56 710.95,492.56 715.84,486.63 720.73,486.63 725.62,492.56 730.52,498.49 735.41,522.21 740.30,498.49 745.19,504.42 750.09,504.42 754.98,504.42 759.87,504.42 764.76,504.42 769.66,504.42 774.55,498.49 779.44,504.42 784.34,522.21 789.23,528.14 794.12,534.07 799.01,551.85 803.91,563.71 808.80,623.00 813.69,623.00 818.58,623.00 823.48,623.00 828.37,623.00 833.26,623.00 838.16,623.00 843.05,623.00 847.94,623.00 852.83,623.00 857.73,623.00 862.62,623.00"/>
<polyline stroke="#e377c2" points="163.52,623.00 168.41,623.00 173.30,623.00 178.20,623.00 183.09,623.00 187.98,623.00 192.87,623.00 197.77,623.00 202.66,623.00 207.55,623.00 212.44,623.00 217.34,623.00 222.23,623.00 227.12,623.00 232.02,623.00 236.91,623.00 241.80,623.00 246.69,623.00 251.59,623.00 256.48,623.00 261.37,623.00 266.26,623.00 271.16,623.00 276.05,623.00 280.94,623.00 285.83,623.00 290.73,623.00 295.62,623.00 300.51,623.00 305.41,623.00 310.30,623.00 315.19,623.00 320.08,623.00 324.98,623.00 329.87,623.00 334.76,623.00 339.65,623.00 344.55,623.00 349.44,623.00 354.33,623.00 359.22,623.00 364.12,623.00 369.01,599.28 373.90,587.43 378.80,569.64 383.69,563.71 388.58,551.85 393.47,545.92 398.37,528.14 403.26,528.14 408.15,528.14 413.04,539.99 417.94,522.21 422.83,522.21 427.72,504.42 432.61,504.42 437.51,504.42 442.40,480.70 447.29,504.42 452.19,498.49 457.08,486.63 461.97,474.77 466.86,468.85 471.76,468.85 476.65,468.85 481.54,468.85 486.43,468.85 491.33,468.85 496.22,468.85 501.11,456.99 506.00,456.99 510.90,462.92 515.79,451.06 520.68,451.06 525.58,468.85 530.47,456.99 535.36,456.99 540.25,474.77 545.15,456.99 550.04,474.77 554.93,468.85 559.82,486.63 564.72,486.63 569.61,486.63 574.50,498.49 579.40,504.42 584.29,504.42 589.18,504.42 594.07,504.42 598.97,504.42 603.86,480.70 608.75,492.56 613.64,492.56 618.54,474.77 623.43,474.77 628.32,474.77 633.21,468.85 638.11,474.77 643.00,474.77 645.00,450.00 660.00,402.00 665.00,417.00 670.00,418.00 675.00,423.00 680.00,408.00 685.00,411.00 689.00,407.00 695.00,380.00 700.00,374.60 704.50,374.60 709.70,390.80 720.00,380.60 724.30,390.00 729.40,406.00 734.50,402.00 739.70,423.40 744.00,428.60 748.00,449.00 755.00,470.00 760.42,474.77 765.32,492.56 770.21,486.63 775.10,480.70 779.99,492.56 784.89,534.07 789.78,522.21 794.67,534.07 799.57,551.85 804.46,563.71 809.35,623.00 814.24,623.00 819.14,623.00 824.03,623.00 828.92,623.00 833.81,623.00 838.71,623.00 843.60,623.00 848.49,623.00 853.38,623.00 858.28,623.00 863.17,623.00"/>
<polyline stroke="#7f7f7f" points="163.07,623.00 167.96,623.00 172.85,623.00 177.74,623.00 182.64,623.00 187.53,623.00 192.42,623.00 197.31,623.00 202.21,623.00 207.10,623.00 211.99,623.00 216.89,623.00 221.78,623.00 226.67,623.00 231.56,623.00 236.46,623.00 241.35,623.00 246.24,623.00 251.13,623.00 256.03,623.00 260.92,623.00 265.81,623.00 270.70,623.00 275.60,623.00 280.49,623.00 285.38,623.00 290.28,623.00 295.17,623.00 300.06,623.00 304.95,623.00 309.85,623.00 314.74,623.00 319.63,623.00 324.52,623.00 329.42,623.00 334.31,623.00 339.20,623.00 344.09,623.00 348.99,623.00 353.88,623.00 358.77,623.00 363.67,623.00 368.56,593.36 373.45,575.57 378.34,563.71 383.24,551.85 388.13,545.92 393.02,539.99 397.91,539.99 402.81,528.14 407.70,522.21 412.59,534.07 417.48,534.07 422.38,510.35 427.27,528.14 432.16,528.14 437.06,516.28 441.95,534.07 447.00,470.00 452.00,450.00 456.00,417.50 461.00,429.00 466.00,429.00 469.00,436.00 476.00,445.00 481.09,474.77 485.98,474.77 490.88,474.77 495.77,474.77 500.66,474.77 505.55,486.63 510.45,480.70 515.34,492.56 520.23,486.63 525.12,492.56 530.02,498.49 534.91,498.49 539.80,498.49 544.69,504.42 549.59,510.35 554.48,498.49 559.37,498.49 564.27,504.42 569.16,516.28 574.05,486.63 578.94,486.63 583.84,504.42 588.73,522.21 593.62,510.35 598.51,522.21 603.41,522.21 608.30,522.21 613.19,504.42 618.08,516.28 622.98,516.28 627.87,510.35 632.76,510.35 637.66,510.35 642.55,522.21 647.44,516.28 652.33,504.42 657.23,504.42 662.12,504.42 667.01,504.42 671.90,516.28 676.80,510.35 681.69,492.56 686.58,492.56 691.47,510.35 696.37,498.49 701.26,510.35 706.15,510.35 711.05,504.42 715.94,510.35 720.83,510.35 725.72,510.35 730.62,534.07 735.51,516.28 740.40,516.28 745.29,516.28 750.19,498.49 755.08,504.42 759.97,504.42 764.87,504.42 769.76,504.42 774.65,516.28 779.54,510.35 784.44,510.35 789.33,516.28 794.22,510.35 799.11,539.99 804.01,551.85 808.90,623.00 813.79,623.00 818.68,623.00 823.58,623.00 828.47,623.00 833.36,623.00 838.26,623.00 843.15,623.00 848.04,623.00 852.93,623.00 857.83,623.00 862.72,623.00"/>
<polyline stroke="#bcbd22" points="161.11,623.00 166.00,623.00 170.89,623.00 175.78,623.00 180.68,623.00 185.57,623.00 190.46,623.00 195.35,623.00 200.25,623.00 205.14,623.00 210.03,623.00 214.92,623.00 219.82,623.00 224.71,623.00 229.60,623.00 234.50,623.00 239.39,623.00 244.28,623.00 249.17,623.00 254.07,623.00 258.96,623.00 263.85,623.00 268.74,623.00 273.64,623.00 278.53,623.00 283.42,623.00 288.31,623.00 293.21,623.00 298.10,623.00 302.99,623.00 307.89,623.00 312.78,623.00 317.67,623.00 322.56,623.00 327.46,623.00 332.35,623.00 337.24,623.00 342.13,623.00 347.03,623.00 351.92,623.00 356.81,623.00 361.70,623.00 366.60,611.14 371.49,587.43 376.38,575.57 381.28,569.64 386.17,557.78 391.06,551.85 395.95,539.99 400.85,539.99 405.74,539.99 410.63,539.99 415.52,539.99 420.42,539.99 425.31,545.92 430.20,528.14 435.10,539.99 439.99,534.07 444.88,516.28 449.77,516.28 454.67,528.14 459.56,516.28 464.45,528.14 469.34,516.28 474.24,504.42 479.13,486.63 484.02,492.56 488.91,492.56 493.81,480.70 498.70,492.56 503.59,492.56 508.49,498.49 513.38,498.49 518.27,486.63 523.16,498.49 528.06,498.49 532.95,498.49 537.84,504.42 542.73,504.42 547.63,516.28 552.52,516.28 557.41,504.42 562.30,498.49 567.20,522.21 572.09,504.42 576.98,528.14 581.88,534.07 586.77,516.28 591.66,516.28 596.55,516.28 601.45,516.28 606.34,522.21 611.23,522.21 616.12,528.14 621.02,528.14 625.91,528.14 630.80,545.92 635.69,516.28 640.59,516.28 645.48,510.35 650.37,528.14 655.27,510.35 660.16,522.21 665.05,534.07 668.00,455.00 675.00,440.00 681.00,458.00 686.00,452.00 691.00,434.00 694.00,442.00 698.00,456.00 704.00,462.00 709.08,528.14 713.98,534.07 718.87,539.99 723.76,522.21 728.66,545.92 733.55,528.14 738.44,528.14 743.33,522.21 748.23,539.99 753.12,516.28 758.01,522.21 762.90,528.14 767.80,528.14 772.69,516.28 777.58,522.21 782.48,539.99 787.37,534.07 792.26,563.71 797.15,575.57 802.05,581.50 806.94,623.00 811.83,623.00 816.72,623.00 821.62,623.00 826.51,623.00 831.40,623.00 836.29,623.00 841.19,623.00 846.08,623.00 850.97,623.00 855.87,623.00 860.76,623.00"/>
<polyline stroke="#17becf" points="164.12,623.00 169.01,623.00 173.90,623.00 178.80,623.00 183.69,623.00 188.58,623.00 193.47,623.00 198.37,623.00 203.26,623.00 208.15,623.00 213.04,623.00 217.94,623.00 222.83,623.00 227.72,623.00 232.62,623.00 237.51,623.00 242.40,623.00 247.29,623.00 252.19,623.00 257.08,623.00 261.97,623.00 266.86,623.00 271.76,623.00 276.65,623.00 281.54,623.00 286.44,623.00 291.33,623.00 296.22,623.00 301.11,623.00 306.01,623.00 310.90,623.00 315.79,623.00 320.68,623.00 325.58,623.00 330.47,623.00 335.36,623.00 340.25,623.00 345.15,623.00 350.04,623.00 354.93,623.00 359.83,623.00 364.72,623.00 369.61,575.57 374.50,557.78 379.40,545.92 384.29,534.07 389.18,534.07 394.07,516.28 398.97,504.42 403.86,510.35 408.75,510.35 413.64,510.35 418.54,510.35 423.43,504.42 428.32,510.35 433.22,510.35 438.11,492.56 443.00,498.49 447.89,498.49 452.79,498.49 457.68,480.70 462.57,480.70 467.46,486.63 472.36,462.92 477.25,462.92 482.14,480.70 487.03,456.99 491.93,462.92 496.82,462.92 501.71,456.99 506.61,462.92 511.50,456.99 516.39,468.85 521.28,468.85 526.18,474.77 531.07,462.92 535.96,462.92 540.85,462.92 545.75,462.92 550.64,474.77 555.53,474.77 560.42,474.77 565.32,474.77 570.21,474.77 575.10,486.63 580.00,486.63 584.89,504.42 589.78,498.49 594.67,498.49 599.57,492.56 604.46,510.35 609.35,492.56 614.24,510.35 619.14,510.35 624.03,480.70 628.92,492.56 633.82,498.49 638.71,504.42 643.60,510.35 648.49,492.56 653.39,492.56 658.28,504.42 663.17,504.42 668.06,516.28 672.96,510.35 677.85,510.35 682.74,510.35 687.63,510.35 692.53,510.35 697.42,504.42 702.31,516.28 707.21,486.63 712.10,486.63 716.99,492.56 721.88,486.63 726.78,510.35 731.67,498.49 736.56,486.63 741.45,492.56 746.35,486.63 751.24,474.77 756.13,474.77 761.02,474.77 765.92,480.70 770.81,480.70 775.70,474.77 780.60,486.63 785.49,498.49 790.38,492.56 795.27,528.14 800.17,539.99 805.06,557.78 809.95,623.00 814.84,623.00 819.74,623.00 824.63,623.00 829.52,623.00 834.41,623.00 839.31,623.00 844.20,623.00 849.09,623.00 853.99,623.00 858.88,623.00 863.77,623.00"/>
<polyline stroke="#1f77b4" points="162.09,623.00 166.99,623.00 171.88,623.00 176.77,623.00 181.67,623.00 186.56,623.00 191.45,623.00 196.34,623.00 201.24,623.00 206.13,623.00 211.02,623.00 215.91,623.00 220.81,623.00 225.70,623.00 230.59,623.00 235.48,623.00 240.38,623.00 245.27,623.00 250.16,623.00 255.06,623.00 259.95,623.00 264.84,623.00 269.73,623.00 274.63,623.00 279.52,623.00 284.41,623.00 289.30,623.00 294.20,623.00 299.09,623.00 303.98,623.00 308.88,623.00 313.77,623.00 318.66,623.00 323.55,623.00 328.45,623.00 333.34,623.00 338.23,623.00 343.12,623.00 348.02,623.00 352.91,623.00 357.80,623.00 362.69,623.00 367.59,605.21 372.48,581.50 377.37,575.57 382.27,563.71 387.16,557.78 392.05,551.85 396.94,539.99 401.84,539.99 406.73,534.07 411.62,522.21 416.51,539.99 421.41,551.85 426.30,545.92 431.19,528.14 436.08,516.28 440.98,516.28 445.87,522.21 450.76,510.35 455.66,504.42 460.55,516.28 465.44,498.49 470.33,504.42 475.23,492.56 480.12,492.56 485.01,486.63 489.90,492.56 494.80,492.56 499.69,492.56 504.58,504.42 509.47,504.42 514.37,486.63 519.26,498.49 524.15,522.21 529.05,522.21 533.94,498.49 538.83,522.21 543.72,504.42 548.62,504.42 553.51,504.42 558.40,522.21 563.29,528.14 568.19,504.42 573.08,516.28 577.97,539.99 582.86,528.14 587.76,539.99 592.65,534.07 597.54,516.28 602.44,534.07 607.33,522.21 612.22,516.28 617.11,516.28 622.01,534.07 626.90,534.07 631.79,534.07 636.68,510.35 641.58,522.21 646.47,516.28 651.36,498.49 655.00,458.00 661.00,445.00 666.00,434.00 671.00,434.00 675.00,438.00 678.00,445.00 681.00,453.00 684.00,462.00 690.00,468.00 695.40,498.49 700.29,498.49 705.18,516.28 710.07,510.35 714.97,510.35 719.86,498.49 724.75,504.42 729.65,498.49 734.54,516.28 739.43,510.35 744.32,510.35 749.22,504.42 754.11,498.49 759.00,498.49 763.89,510.35 768.79,504.42 773.68,516.28 778.57,522.21 783.46,528.14 788.36,539.99 793.25,528.14 798.14,539.99 803.04,557.78 807.93,623.00 812.82,623.00 817.71,623.00 822.61,623.00 827.50,623.00 832.39,623.00 837.28,623.00 842.18,623.00 847.07,623.00 851.96,623.00 856.85,623.00 861.75,623.00"/>
<polyline stroke="#ff7f0e" points="163.31,623.00 168.20,623.00 173.09,623.00 177.99,623.00 182.88,623.00 187.77,623.00 192.66,623.00 197.56,623.00 202.45,623.00 207.34,623.00 212.24,623.00 217.13,623.00 222.02,623.00 226.91,623.00 231.81,623.00 236.70,623.00 241.59,623.00 246.48,623.00 251.38,623.00 256.27,623.00 261.16,623.00 266.05,623.00 270.95,623.00 275.84,623.00 280.73,623.00 285.63,623.00 290.52,623.00 295.41,623.00 300.30,623.00 305.20,623.00 310.09,623.00 314.98,623.00 319.87,623.00 324.77,623.00 329.66,623.00 334.55,623.00 339.44,623.00 344.34,623.00 349.23,623.00 354.12,623.00 359.02,623.00 363.91,623.00 368.80,587.43 373.69,569.64 378.59,557.78 383.48,551.85 388.37,545.92 393.26,545.92 398.16,539.99 403.05,534.07 407.94,539.99 412.83,539.99 417.73,539.99 422.62,539.99 427.51,534.07 432.41,534.07 437.30,539.99 442.19,539.99 447.08,510.35 451.98,510.35 456.87,510.35 461.76,516.28 466.65,504.42 471.55,510.35 476.44,510.35 481.33,498.49 486.22,486.63 491.12,486.63 496.01,486.63 500.90,504.42 505.80,504.42 510.69,486.63 515.58,486.63 520.47,492.56 525.37,504.42 530.26,510.35 535.15,486.63 540.04,522.21 544.94,522.21 549.83,516.28 554.72,516.28 559.62,516.28 564.51,516.28 569.40,516.28 574.29,534.07 579.19,522.21 584.08,522.21 588.97,516.28 593.86,534.07 598.76,516.28 603.65,522.21 608.54,522.21 613.43,516.28 618.33,522.21 623.22,522.21 628.11,528.14 633.01,534.07 637.90,539.99 642.79,528.14 647.68,539.99 652.58,539.99 657.47,534.07 662.36,534.07 667.25,528.14 672.15,528.14 677.04,528.14 681.93,522.21 686.82,510.35 691.72,528.14 696.61,510.35 701.50,539.99 706.40,522.21 711.29,516.28 716.18,528.14 721.07,528.14 725.97,528.14 730.86,528.14 735.75,528.14 740.64,539.99 745.54,534.07 750.43,528.14 755.32,534.07 760.21,528.14 765.11,528.14 770.00,545.92 774.89,539.99 779.79,545.92 784.68,545.92 789.57,534.07 794.46,545.92 799.36,569.64 804.25,581.50 809.14,623.00 814.03,623.00 818.93,623.00 823.82,623.00 828.71,623.00 833.61,623.00 838.50,623.00 843.39,623.00 848.28,623.00 853.18,623.00 858.07,623.00 862.96,623.00"/>
<polyline stroke="#2ca02c" points="160.45,623.00 165.35,623.00 170.24,623.00 175.13,623.00 180.03,623.00 184.92,623.00 189.81,623.00 194.70,623.00 199.60,623.00 204.49,623.00 209.38,623.00 214.27,623.00 219.17,623.00 224.06,623.00 228.95,623.00 233.84,623.00 238.74,623.00 243.63,623.00 248.52,623.00 253.42,623.00 258.31,623.00 263.20,623.00 268.09,623.00 272.99,623.00 277.88,623.00 282.77,623.00 287.66,623.00 292.56,623.00 297.45,623.00 302.34,623.00 307.23,623.00 312.13,623.00 317.02,623.00 321.91,623.00 326.81,623.00 331.70,623.00 336.59,623.00 341.48,623.00 346.38,623.00 351.27,623.00 356.16,623.00 361.05,623.00 365.95,617.07 370.84,593.36 375.73,581.50 380.62,575.57 385.52,563.71 390.41,563.71 395.30,551.85 400.20,551.85 405.09,534.07 409.98,539.99 414.87,539.99 419.77,539.99 424.66,539.99 429.55,545.92 434.44,522.21 439.34,516.28 444.23,522.21 449.12,504.42 454.02,504.42 458.91,504.42 463.80,498.49 468.69,504.42 473.59,492.56 478.48,492.56 483.37,498.49 488.26,486.63 493.16,486.63 498.05,486.63 502.94,474.77 507.83,492.56 512.73,492.56 517.62,480.70 522.51,480.70 527.41,480.70 532.30,480.70 537.19,492.56 542.08,480.70 546.98,480.70 551.87,474.77 556.76,486.63 561.65,486.63 565.00,460.00 572.00,455.00 582.00,456.00 591.00,458.00 595.00,445.00 598.00,439.00 602.00,434.00 612.00,423.00 616.00,430.00 619.00,440.00 622.00,450.00 628.00,462.00 630.15,468.85 635.04,492.56 639.94,504.42 644.83,504.42 649.72,504.42 654.61,498.49 659.51,504.42 664.40,504.42 669.29,498.49 674.19,468.85 679.08,474.77 683.97,486.63 688.86,486.63 693.76,480.70 698.65,480.70 703.54,492.56 708.43,480.70 713.33,492.56 718.22,498.49 723.11,492.56 728.00,498.49 732.90,498.49 737.79,510.35 742.68,510.35 747.58,492.56 752.47,516.28 757.36,510.35 762.25,510.35 767.15,504.42 772.04,510.35 776.93,522.21 781.82,516.28 786.72,516.28 791.61,522.21 796.50,551.85 801.40,557.78 806.29,623.00 811.18,623.00 816.07,623.00 820.97,623.00 825.86,623.00 830.75,623.00 835.64,623.00 840.54,623.00 845.43,623.00 850.32,623.00 855.21,623.00 860.11,623.00"/>
<polyline stroke="#d62728" points="164.46,623.00 169.35,623.00 174.24,623.00 179.14,623.00 184.03,623.00 188.92,623.00 193.81,623.00 198.71,623.00 203.60,623.00 208.49,623.00 213.38,623.00 218.28,623.00 223.17,623.00 228.06,623.00 232.95,623.00 237.85,623.00 242.74,623.00 247.63,623.00 252.53,623.00 257.42,623.00 262.31,623.00 267.20,623.00 272.10,623.00 276.99,623.00 281.88,623.00 286.77,623.00 291.67,623.00 296.56,623.00 301.45,623.00 306.34,623.00 311.24,623.00 316.13,623.00 321.02,623.00 325.92,623.00 330.81,623.00 335.70,623.00 340.59,623.00 345.49,623.00 350.38,623.00 355.27,623.00 360.16,623.00 365.06,623.00 369.95,587.43 374.84,569.64 379.73,557.78 384.63,545.92 389.52,539.99 394.41,528.14 399.31,522.21 404.20,510.35 409.09,510.35 413.98,498.49 418.88,498.49 423.77,480.70 428.66,480.70 433.55,480.70 438.45,480.70 443.34,480.70 448.23,492.56 453.13,474.77 458.02,474.77 462.91,474.77 467.80,462.92 472.70,474.77 477.59,468.85 482.48,456.99 487.37,451.06 492.27,451.06 497.16,433.27 502.05,468.85 506.94,468.85 511.84,451.06 516.73,451.06 521.62,468.85 526.52,474.77 531.41,486.63 536.30,474.77 541.19,468.85 546.09,468.85 550.98,474.77 555.87,462.92 560.76,480.70 565.66,480.70 570.55,480.70 575.44,480.70 580.33,498.49 585.23,492.56 590.12,492.56 595.01,486.63 599.91,498.49 604.80,480.70 609.69,486.63 614.58,480.70 619.48,480.70 624.37,498.49 629.26,486.63 634.15,504.42 639.05,504.42 643.94,504.42 648.83,504.42 653.72,510.35 658.62,510.35 663.51,498.49 665.00,530.00 684.00,554.00 690.00,568.00 700.00,569.00 710.00,556.00 720.00,548.00 730.00,540.00 732.01,498.49 736.90,522.21 741.79,522.21 746.69,516.28 751.58,528.14 756.47,534.07 761.36,498.49 766.26,498.49 771.15,498.49 776.04,510.35 780.93,504.42 785.83,528.14 790.72,539.99 795.61,557.78 800.51,557.78 805.40,569.64 810.29,623.00 815.18,623.00 820.08,623.00 824.97,623.00 829.86,623.00 834.75,623.00 839.65,623.00 844.54,623.00 849.43,623.00 854.32,623.00 859.22,623.00 864.11,623.00"/>
<polyline stroke="#9467bd" points="163.01,623.00 167.90,623.00 172.79,623.00 177.68,623.00 182.58,623.00 187.47,623.00 192.36,623.00 197.25,623.00 202.15,623.00 207.04,623.00 211.93,623.00 216.83,623.00 221.72,623.00 226.61,623.00 231.50,623.00 236.40,623.00 241.29,623.00 246.18,623.00 251.07,623.00 255.97,623.00 260.86,623.00 265.75,623.00 270.64,623.00 275.54,623.00 280.43,623.00 285.32,623.00 290.22,623.00 295.11,623.00 300.00,623.00 304.89,623.00 309.79,623.00 314.68,623.00 319.57,623.00 324.46,623.00 329.36,623.00 334.25,623.00 339.14,623.00 344.03,623.00 348.93,623.00 353.82,623.00 358.71,623.00 363.61,623.00 368.50,605.21 373.39,593.36 378.28,581.50 383.18,569.64 388.07,557.78 392.96,551.85 397.85,539.99 402.75,534.07 407.64,539.99 412.53,534.07 417.42,528.14 422.32,498.49 427.21,498.49 432.10,498.49 437.00,498.49 441.89,492.56 446.78,468.85 451.67,480.70 456.57,462.92 461.46,474.77 466.35,462.92 471.24,456.99 476.14,451.06 481.03,451.06 485.92,474.77 490.81,462.92 495.71,462.92 500.60,474.77 505.49,474.77 510.39,492.56 515.28,486.63 520.17,498.49 525.06,498.49 529.96,504.42 534.85,510.35 539.74,516.28 544.63,522.21 549.53,510.35 554.42,539.99 559.31,528.14 564.21,522.21 569.10,522.21 573.99,522.21 578.88,522.21 583.78,516.28 588.67,510.35 593.56,522.21 598.45,522.21 603.35,522.21 608.24,522.21 613.13,522.21 618.02,522.21 622.92,516.28 627.81,510.35 632.70,528.14 637.60,528.14 642.49,528.14 647.38,545.92 652.27,534.07 657.17,534.07 662.06,539.99 666.95,528.14 671.84,539.99 676.74,534.07 681.63,528.14 686.52,528.14 691.41,516.28 694.00,450.00 700.00,434.00 706.00,445.00 712.00,448.00 719.00,440.00 725.00,450.00 732.00,460.00 735.45,539.99 740.34,539.99 745.23,528.14 750.13,528.14 755.02,528.14 759.91,516.28 764.80,516.28 769.70,528.14 774.59,510.35 779.48,528.14 784.38,528.14 789.27,528.14 794.16,551.85 799.05,563.71 803.95,569.64 808.84,623.00 813.73,623.00 818.62,623.00 823.52,623.00 828.41,623.00 833.30,623.00 838.19,623.00 843.09,623.00 847.98,623.00 852.87,623.00 857.77,623.00 862.66,623.00"/>
<polyline stroke="#8c564b" points="162.48,623.00 167.38,623.00 172.27,623.00 177.16,623.00 182.06,623.00 186.95,623.00 191.84,623.00 196.73,623.00 201.63,623.00 206.52,623.00 211.41,623.00 216.30,623.00 221.20,623.00 226.09,623.00 230.98,623.00 235.87,623.00 240.77,623.00 245.66,623.00 250.55,623.00 255.45,623.00 260.34,623.00 265.23,623.00 270.12,623.00 275.02,623.00 279.91,623.00 284.80,623.00 289.69,623.00 294.59,623.00 299.48,623.00 304.37,623.00 309.27,623.00 314.16,623.00 319.05,623.00 323.94,623.00 328.84,623.00 333.73,623.00 338.62,623.00 343.51,623.00 348.41,623.00 353.30,623.00 358.19,623.00 363.08,623.00 367.98,605.21 372.87,587.43 377.76,575.57 382.66,569.64 387.55,563.71 392.44,557.78 397.33,545.92 402.23,539.99 407.12,551.85 412.01,551.85 416.90,551.85 421.80,575.57 426.69,551.85 431.58,551.85 436.47,551.85 441.37,551.85 446.26,522.21 451.15,528.14 456.05,510.35 460.94,510.35 465.83,498.49 470.72,510.35 475.62,492.56 480.51,486.63 485.40,486.63 490.29,486.63 495.19,474.77 500.08,480.70 504.97,486.63 509.86,486.63 514.76,486.63 519.65,480.70 524.54,492.56 529.44,480.70 534.33,492.56 539.22,480.70 544.11,474.77 549.01,474.77 553.90,480.70 558.79,504.42 563.68,504.42 568.58,498.49 573.47,504.42 578.36,516.28 583.26,510.35 588.15,498.49 593.04,504.42 597.93,504.42 602.83,510.35 607.72,510.35 612.61,504.42 617.50,510.35 622.40,504.42 627.29,504.42 632.18,504.42 637.07,492.56 641.97,516.28 646.86,516.28 651.75,510.35 656.65,510.35 661.54,510.35 666.43,510.35 671.32,522.21 676.22,522.21 681.11,510.35 686.00,516.28 690.89,516.28 695.79,522.21 700.68,522.21 705.57,504.42 708.00,450.00 714.00,434.00 719.00,444.00 724.00,434.00 727.00,445.00 730.00,453.00 736.00,462.00 739.82,534.07 744.71,534.07 749.61,522.21 754.50,528.14 759.39,528.14 764.28,522.21 769.18,534.07 774.07,522.21 778.96,522.21 783.85,534.07 788.75,534.07 793.64,534.07 798.53,569.64 803.43,569.64 808.32,623.00 813.21,623.00 818.10,623.00 823.00,623.00 827.89,623.00 832.78,623.00 837.67,623.00 842.57,623.00 847.46,623.00 852.35,623.00 857.24,623.00 862.14,623.00"/>
<polyline stroke="#e377c2" points="162.05,623.00 166.94,623.00 171.84,623.00 176.73,623.00 181.62,623.00 186.51,623.00 191.41,623.00 196.30,623.00 201.19,623.00 206.08,623.00 210.98,623.00 215.87,623.00 220.76,623.00 225.66,623.00 230.55,623.00 235.44,623.00 240.33,623.00 245.23,623.00 250.12,623.00 255.01,623.00 259.90,623.00 264.80,623.00 269.69,623.00 274.58,623.00 279.47,623.00 284.37,623.00 289.26,623.00 294.15,623.00 299.05,623.00 303.94,623.00 308.83,623.00 313.72,623.00 318.62,623.00 323.51,623.00 328.40,623.00 333.29,623.00 338.19,623.00 343.08,623.00 347.97,623.00 352.86,623.00 357.76,623.00 362.65,623.00 367.30,600.00 372.20,570.00 384.30,518.60 392.00,480.00 401.40,455.00 405.70,460.00 410.00,467.00 420.00,483.00 430.00,495.00 431.15,492.56 436.04,492.56 440.93,480.70 445.83,486.63 450.72,486.63 455.61,486.63 460.50,468.85 465.40,468.85 470.29,468.85 475.18,433.27 480.07,445.13 484.97,451.06 489.86,456.99 494.75,451.06 499.65,456.99 504.54,456.99 509.43,456.99 514.32,456.99 519.22,451.06 524.11,474.77 529.00,474.77 533.89,480.70 538.79,480.70 543.68,486.63 548.57,486.63 553.46,486.63 558.36,486.63 563.25,486.63 568.14,504.42 573.04,492.56 577.93,480.70 582.82,480.70 587.71,480.70 592.61,480.70 597.50,486.63 602.39,486.63 607.28,492.56 612.18,474.77 617.07,492.56 621.96,480.70 626.85,486.63 631.75,486.63 636.64,492.56 641.53,504.42 646.43,480.70 651.32,486.63 656.21,486.63 661.10,486.63 666.00,486.63 670.89,486.63 675.78,480.70 680.67,468.85 685.57,492.56 690.46,510.35 695.35,504.42 700.25,486.63 705.14,486.63 710.03,498.49 714.92,504.42 719.82,498.49 724.71,498.49 729.60,516.28 734.49,504.42 739.39,516.28 744.28,522.21 749.17,504.42 754.06,486.63 758.96,492.56 763.85,510.35 768.74,504.42 773.64,510.35 778.53,516.28 783.42,528.14 788.31,534.07 793.21,539.99 798.10,563.71 802.99,569.64 807.88,623.00 812.78,623.00 817.67,623.00 822.56,623.00 827.45,623.00 832.35,623.00 837.24,623.00 842.13,623.00 847.03,623.00 851.92,623.00 856.81,623.00 861.70,623.00"/>
<polyline stroke="#7f7f7f" points="161.62,623.00 166.51,623.00 171.41,623.00 176.30,623.00 181.19,623.00 186.08,623.00 190.98,623.00 195.87,623.00 200.76,623.00 205.65,623.00 210.55,623.00 215.44,623.00 220.33,623.00 225.23,623.00 230.12,623.00 235.01,623.00 239.90,623.00 244.80,623.00 249.69,623.00 254.58,623.00 259.47,623.00 264.37,623.00 269.26,623.00 274.15,623.00 279.04,623.00 283.94,623.00 288.83,623.00 293.72,623.00 298.62,623.00 303.51,623.00 308.40,623.00 313.29,623.00 318.19,623.00 323.08,623.00 327.97,623.00 332.86,623.00 337.76,623.00 342.65,623.00 347.54,623.00 352.43,623.00 357.33,623.00 362.22,623.00 367.11,605.21 372.01,593.36 376.90,575.57 381.79,569.64 386.68,563.71 391.58,563.71 396.47,557.78 401.36,545.92 406.25,539.99 411.15,551.85 416.04,545.92 420.93,545.92 425.83,545.92 430.72,539.99 435.61,528.14 440.50,545.92 445.40,528.14 450.29,522.21 455.18,516.28 460.07,510.35 464.97,510.35 469.86,504.42 474.75,504.42 479.64,498.49 484.54,504.42 489.43,504.42 494.32,480.70 499.22,480.70 504.11,480.70 509.00,486.63 513.89,480.70 518.79,480.70 523.68,480.70 528.57,492.56 533.46,498.49 538.36,486.63 543.25,492.56 548.14,498.49 553.03,510.35 557.93,492.56 562.82,492.56 567.71,510.35 572.61,510.35 577.50,516.28 582.39,516.28 587.28,516.28 592.18,528.14 597.07,504.42 601.96,498.49 606.85,516.28 611.75,498.49 616.64,516.28 621.53,516.28 626.42,504.42 631.32,492.56 636.21,492.56 641.10,486.63 646.00,492.56 650.89,480.70 655.78,504.42 660.67,504.42 665.57,504.42 670.46,504.42 675.35,504.42 680.24,504.42 685.14,498.49 690.03,492.56 694.92,492.56 699.82,516.28 704.71,516.28 709.60,486.63 714.49,504.42 719.39,492.56 724.28,492.56 729.17,504.42 734.06,504.42 738.96,486.63 743.85,510.35 748.74,498.49 753.63,498.49 758.53,498.49 763.42,504.42 768.31,504.42 773.21,504.42 778.10,498.49 782.99,504.42 787.88,522.21 792.78,534.07 797.67,563.71 802.56,563.71 807.45,623.00 812.35,623.00 817.24,623.00 822.13,623.00 827.02,623.00 831.92,623.00 836.81,623.00 841.70,623.00 846.60,623.00 851.49,623.00 856.38,623.00 861.27,623.00"/>
<polyline stroke="#bcbd22" points="164.64,623.00 169.53,623.00 174.42,623.00 179.31,623.00 184.21,623.00 189.10,623.00 193.99,623.00 198.88,623.00 203.78,623.00 208.67,623.00 213.56,623.00 218.46,623.00 223.35,623.00 228.24,623.00 233.13,623.00 238.03,623.00 242.92,623.00 247.81,623.00 252.70,623.00 257.60,623.00 262.49,623.00 267.38,623.00 272.27,623.00 277.17,623.00 282.06,623.00 286.95,623.00 291.85,623.00 296.74,623.00 301.63,623.00 306.52,623.00 311.42,623.00 316.31,623.00 321.20,623.00 326.09,623.00 330.99,623.00 335.88,623.00 340.77,623.00 345.66,623.00 350.56,623.00 355.45,623.00 360.34,623.00 365.24,623.00 370.13,605.21 375.02,587.43 379.91,581.50 384.81,569.64 389.70,563.71 394.59,551.85 399.48,551.85 404.38,539.99 409.27,528.14 414.16,528.14 419.05,539.99 423.95,534.07 428.84,534.07 433.73,534.07 438.63,516.28 443.52,516.28 448.41,504.42 453.30,498.49 458.20,498.49 463.09,504.42 467.98,504.42 472.87,504.42 477.77,474.77 482.66,486.63 487.55,486.63 492.45,468.85 497.34,474.77 502.23,486.63 507.12,486.63 512.02,486.63 516.91,492.56 521.80,492.56 526.69,492.56 531.59,492.56 536.48,510.35 541.37,504.42 546.26,498.49 551.16,510.35 556.05,510.35 560.94,510.35 565.84,504.42 570.73,522.21 575.62,516.28 580.51,498.49 585.41,510.35 590.30,498.49 595.19,510.35 600.08,504.42 604.98,504.42 609.87,504.42 614.76,492.56 619.65,492.56 624.55,492.56 629.44,480.70 634.33,474.77 639.23,480.70 644.12,474.77 649.01,474.77 653.90,468.85 658.80,492.56 663.69,480.70 668.58,480.70 673.47,516.28 678.37,492.56 683.26,492.56 688.15,480.70 693.04,510.35 697.94,492.56 702.83,492.56 707.72,492.56 712.62,492.56 717.51,492.56 722.40,504.42 727.29,486.63 732.19,492.56 737.08,492.56 741.97,510.35 746.86,504.42 751.76,504.42 756.65,510.35 761.54,510.35 766.43,510.35 771.33,492.56 776.22,516.28 781.11,492.56 786.01,504.42 790.90,516.28 795.79,528.14 800.68,557.78 805.58,563.71 810.47,623.00 815.36,623.00 820.25,623.00 825.15,623.00 830.04,623.00 834.93,623.00 839.83,623.00 844.72,623.00 849.61,623.00 854.50,623.00 859.40,623.00 864.29,623.00"/>
<polyline stroke="#17becf" points="160.31,623.00 165.20,623.00 170.09,623.00 174.99,623.00 179.88,623.00 184.77,623.00 189.66,623.00 194.56,623.00 199.45,623.00 204.34,623.00 209.23,623.00 214.13,623.00 219.02,623.00 223.91,623.00 228.80,623.00 233.70,623.00 238.59,623.00 243.48,623.00 248.38,623.00 253.27,623.00 258.16,623.00 263.05,623.00 267.95,623.00 272.84,623.00 277.73,623.00 282.62,623.00 287.52,623.00 292.41,623.00 297.30,623.00 302.20,623.00 307.09,623.00 311.98,623.00 316.87,623.00 321.77,623.00 326.66,623.00 331.55,623.00 336.44,623.00 341.34,623.00 346.23,623.00 351.12,623.00 356.01,623.00 360.91,623.00 365.80,617.07 370.69,587.43 375.59,575.57 380.48,563.71 385.37,557.78 390.26,545.92 395.16,545.92 400.05,528.14 404.94,522.21 409.83,534.07 414.73,534.07 419.62,534.07 424.51,528.14 429.40,528.14 434.30,516.28 439.19,516.28 444.08,504.42 448.98,516.28 453.87,522.21 458.76,522.21 463.65,504.42 468.55,486.63 473.44,486.63 478.33,480.70 483.22,474.77 488.12,468.85 493.01,456.99 497.90,456.99 502.79,492.56 507.69,492.56 512.58,504.42 517.47,486.63 522.37,480.70 527.26,486.63 532.15,474.77 537.04,474.77 541.94,486.63 546.83,486.63 551.72,474.77 556.61,480.70 561.51,480.70 566.40,492.56 571.29,492.56 576.19,480.70 581.08,486.63 585.97,486.63 590.86,462.92 595.76,468.85 600.65,498.49 605.54,486.63 610.43,498.49 615.33,492.56 620.22,486.63 625.11,486.63 630.00,480.70 634.90,474.77 639.79,474.77 644.68,492.56 649.58,492.56 654.47,510.35 659.36,510.35 664.25,510.35 669.15,504.42 674.04,510.35 678.93,492.56 683.82,510.35 688.72,498.49 693.61,504.42 698.50,522.21 703.39,498.49 708.29,504.42 713.18,504.42 718.07,498.49 722.97,504.42 727.86,504.42 732.75,510.35 737.64,498.49 742.54,492.56 747.43,486.63 752.32,486.63 757.21,474.77 762.11,474.77 767.00,474.77 771.89,492.56 776.78,504.42 781.68,486.63 786.57,498.49 791.46,528.14 796.36,522.21 801.25,534.07 806.14,623.00 811.03,623.00 815.93,623.00 820.82,623.00 825.71,623.00 830.60,623.00 835.50,623.00 840.39,623.00 845.28,623.00 850.17,623.00 855.07,623.00 859.96,623.00"/>
<polyline stroke="#1f77b4" points="161.03,623.00 165.92,623.00 170.81,623.00 175.70,623.00 180.60,623.00 185.49,623.00 190.38,623.00 195.27,623.00 200.17,623.00 205.06,623.00 209.95,623.00 214.85,623.00 219.74,623.00 224.63,623.00 229.52,623.00 234.42,623.00 239.31,623.00 244.20,623.00 249.09,623.00 253.99,623.00 258.88,623.00 263.77,623.00 268.67,623.00 273.56,623.00 278.45,623.00 283.34,623.00 288.24,623.00 293.13,623.00 298.02,623.00 302.91,623.00 307.81,623.00 312.70,623.00 317.59,623.00 322.48,623.00 327.38,623.00 332.27,623.00 337.16,623.00 342.06,623.00 346.95,623.00 351.84,623.00 356.73,623.00 361.63,623.00 366.52,617.07 371.41,611.14 376.30,605.21 381.20,593.36 386.09,587.43 390.98,575.57 395.87,575.57 400.77,563.71 405.66,563.71 410.55,557.78 415.45,551.85 420.34,551.85 425.23,539.99 430.12,539.99 435.02,528.14 439.91,516.28 444.80,516.28 449.69,510.35 454.59,522.21 459.48,492.56 464.37,504.42 469.26,504.42 474.16,528.14 479.05,528.14 483.94,528.14 488.84,528.14 493.73,528.14 498.62,510.35 503.51,510.35 508.41,516.28 513.30,516.28 518.19,522.21 523.08,504.42 527.98,522.21 532.87,522.21 537.76,516.28 542.65,498.49 547.55,510.35 552.44,510.35 557.33,516.28 562.23,510.35 567.12,510.35 572.01,504.42 576.90,516.28 581.80,522.21 586.69,522.21 591.58,545.92 596.47,539.99 601.37,539.99 606.26,522.21 611.15,545.92 616.05,545.92 620.94,545.92 625.83,557.78 630.72,534.07 635.62,539.99 640.51,545.92 645.40,545.92 650.29,534.07 655.19,563.71 660.08,563.71 664.97,539.99 669.86,551.85 674.76,551.85 679.65,551.85 684.54,539.99 689.44,551.85 694.33,551.85 699.22,545.92 704.11,545.92 709.01,545.92 713.90,534.07 718.79,545.92 723.68,539.99 728.58,522.21 733.47,534.07 738.36,528.14 743.25,545.92 748.15,534.07 753.04,528.14 757.93,534.07 762.83,534.07 767.72,534.07 772.61,528.14 777.50,539.99 782.40,545.92 787.29,545.92 792.18,557.78 797.07,575.57 801.97,587.43 806.86,623.00 811.75,623.00 816.64,623.00 821.54,623.00 826.43,623.00 831.32,623.00 836.22,623.00 841.11,623.00 846.00,623.00 850.89,623.00 855.79,623.00 860.68,623.00"/>
<polyline stroke="#ff7f0e" points="162.83,623.00 167.72,623.00 172.61,623.00 177.50,623.00 182.40,623.00 187.29,623.00 192.18,623.00 197.07,623.00 201.97,623.00 206.86,623.00 211.75,623.00 216.65,623.00 221.54,623.00 226.43,623.00 231.32,623.00 236.22,623.00 241.11,623.00 246.00,623.00 250.89,623.00 255.79,623.00 260.68,623.00 265.57,623.00 270.46,623.00 275.36,623.00 280.25,623.00 285.14,623.00 290.04,623.00 294.93,623.00 299.82,623.00 304.71,623.00 309.61,623.00 314.50,623.00 319.39,623.00 324.28,623.00 329.18,623.00 334.07,623.00 338.96,623.00 343.85,623.00 348.75,623.00 353.64,623.00 358.53,623.00 363.43,623.00 368.32,587.43 373.21,563.71 378.10,551.85 383.00,545.92 387.89,545.92 392.78,534.07 397.67,528.14 402.57,528.14 407.46,516.28 412.35,510.35 417.24,516.28 422.14,522.21 427.03,516.28 431.92,510.35 436.82,516.28 441.71,492.56 446.60,498.49 451.49,486.63 456.39,486.63 461.28,492.56 466.17,492.56 471.06,474.77 475.96,468.85 480.85,474.77 485.74,474.77 490.64,474.77 495.53,474.77 500.42,474.77 505.31,468.85 510.21,468.85 515.10,468.85 519.99,468.85 524.88,486.63 529.78,474.77 534.67,480.70 539.56,480.70 544.45,504.42 549.35,474.77 554.24,480.70 559.13,486.63 564.03,498.49 568.92,504.42 573.81,492.56 578.70,504.42 583.60,504.42 588.49,498.49 593.38,492.56 598.27,504.42 603.17,492.56 608.06,486.63 612.95,468.85 617.84,480.70 622.74,468.85 627.63,462.92 632.52,462.92 637.42,468.85 642.31,468.85 647.20,462.92 652.09,474.77 656.99,480.70 661.88,480.70 666.77,480.70 671.66,492.56 676.56,486.63 681.45,486.63 686.34,486.63 691.23,486.63 696.13,498.49 701.02,480.70 705.91,474.77 710.81,468.85 715.70,468.85 720.59,486.63 725.48,486.63 730.38,492.56 735.27,492.56 740.16,498.49 745.05,492.56 749.95,510.35 754.84,486.63 759.73,504.42 764.63,504.42 769.52,516.28 774.41,492.56 779.30,510.35 784.20,492.56 789.09,510.35 793.98,534.07 798.87,539.99 803.77,557.78 808.66,623.00 813.55,623.00 818.44,623.00 823.34,623.00 828.23,623.00 833.12,623.00 838.02,623.00 842.91,623.00 847.80,623.00 852.69,623.00 857.59,623.00 862.48,623.00"/>
<polyline stroke="#2ca02c" points="164.89,623.00 169.79,623.00 174.68,623.00 179.57,623.00 184.46,623.00 189.36,623.00 194.25,623.00 199.14,623.00 204.03,623.00 208.93,623.00 213.82,623.00 218.71,623.00 223.60,623.00 228.50,623.00 233.39,623.00 238.28,623.00 243.18,623.00 248.07,623.00 252.96,623.00 257.85,623.00 262.75,623.00 267.64,623.00 272.53,623.00 277.42,623.00 282.32,623.00 287.21,623.00 292.10,623.00 296.99,623.00 301.89,623.00 306.78,623.00 311.67,623.00 316.57,623.00 321.46,623.00 326.35,623.00 331.24,623.00 336.14,623.00 341.03,623.00 345.92,623.00 350.81,623.00 355.71,623.00 360.60,623.00 365.49,623.00 370.39,587.43 375.28,569.64 380.17,563.71 385.06,551.85 389.96,545.92 394.85,534.07 399.74,534.07 404.63,510.35 409.53,510.35 414.42,498.49 419.31,492.56 424.20,480.70 429.10,498.49 433.99,498.49 438.88,486.63 443.78,474.77 448.67,474.77 453.56,474.77 458.45,456.99 463.35,456.99 468.24,468.85 473.13,451.06 478.02,433.27 482.92,433.27 487.81,439.20 492.70,439.20 497.59,445.13 502.49,433.27 507.38,433.27 512.27,439.20 517.17,439.20 522.06,451.06 526.95,456.99 531.84,456.99 536.74,456.99 541.63,456.99 546.52,456.99 551.41,462.92 556.31,468.85 561.20,468.85 566.09,480.70 570.98,492.56 575.88,480.70 580.77,480.70 585.66,480.70 590.56,474.77 595.45,492.56 600.34,492.56 605.23,492.56 610.13,504.42 615.02,504.42 619.91,504.42 624.80,504.42 629.70,498.49 634.59,492.56 639.48,510.35 644.37,498.49 650.00,462.00 656.00,455.00 670.00,455.00 682.00,445.00 687.00,444.00 691.00,429.00 695.00,437.00 700.00,443.00 706.00,440.00 710.00,450.00 716.00,460.00 717.77,480.70 722.66,474.77 727.55,474.77 732.44,456.99 737.34,462.92 742.23,468.85 747.12,474.77 752.01,468.85 756.91,456.99 761.80,451.06 766.69,468.85 771.58,456.99 776.48,456.99 781.37,474.77 786.26,468.85 791.16,480.70 796.05,504.42 800.94,510.35 805.83,539.99 810.73,623.00 815.62,623.00 820.51,623.00 825.40,623.00 830.30,623.00 835.19,623.00 840.08,623.00 844.97,623.00 849.87,623.00 854.76,623.00 859.65,623.00 864.55,623.00"/>
<polyline stroke="#d62728" points="160.32,623.00 165.22,623.00 170.11,623.00 175.00,623.00 179.89,623.00 184.79,623.00 189.68,623.00 194.57,623.00 199.46,623.00 204.36,623.00 209.25,623.00 214.14,623.00 219.04,623.00 223.93,623.00 228.82,623.00 233.71,623.00 238.61,623.00 243.50,623.00 248.39,623.00 253.28,623.00 258.18,623.00 263.07,623.00 267.96,623.00 272.85,623.00 277.75,623.00 282.64,623.00 287.53,623.00 292.43,623.00 297.32,623.00 302.21,623.00 307.10,623.00 312.00,623.00 316.89,623.00 321.78,623.00 326.67,623.00 331.57,623.00 336.46,623.00 341.35,623.00 346.24,623.00 351.14,623.00 356.03,623.00 360.92,623.00 365.82,611.14 370.71,569.64 375.60,551.85 380.49,539.99 385.39,528.14 390.28,528.14 395.17,528.14 400.06,510.35 404.96,522.21 409.85,504.42 414.74,504.42 419.63,522.21 424.53,498.49 429.42,510.35 434.31,486.63 439.21,480.70 444.10,474.77 448.99,468.85 453.88,462.92 458.78,486.63 463.67,480.70 465.00,450.00 472.00,425.00 477.00,401.50 482.00,418.00 487.00,417.50 492.00,423.00 498.00,430.00 505.00,440.00 507.70,474.77 512.60,445.13 517.49,456.99 522.38,456.99 527.27,456.99 532.17,462.92 537.06,451.06 541.95,451.06 546.84,468.85 551.74,451.06 556.63,451.06 561.52,462.92 566.42,468.85 571.31,480.70 576.20,486.63 581.09,474.77 585.99,474.77 590.88,486.63 595.77,486.63 600.66,486.63 605.56,468.85 610.45,462.92 615.34,480.70 620.23,480.70 625.13,480.70 630.02,456.99 634.91,456.99 639.81,445.13 644.70,462.92 649.59,462.92 654.48,504.42 659.38,474.77 664.27,456.99 669.16,456.99 674.05,468.85 678.95,456.99 683.84,456.99 688.73,456.99 693.62,486.63 698.52,492.56 703.41,498.49 708.30,492.56 713.20,498.49 718.09,486.63 722.98,474.77 727.87,492.56 732.77,492.56 737.66,486.63 742.55,474.77 747.44,498.49 752.34,498.49 757.23,492.56 762.12,486.63 767.02,480.70 771.91,486.63 776.80,468.85 781.69,480.70 786.59,504.42 791.48,504.42 796.37,516.28 801.26,545.92 806.16,623.00 811.05,623.00 815.94,623.00 820.83,623.00 825.73,623.00 830.62,623.00 835.51,623.00 840.41,623.00 845.30,623.00 850.19,623.00 855.08,623.00 859.98,623.00"/>
<polyline stroke="#9467bd" points="160.79,623.00 165.68,623.00 170.57,623.00 175.47,623.00 180.36,623.00 185.25,623.00 190.14,623.00 195.04,623.00 199.93,623.00 204.82,623.00 209.72,623.00 214.61,623.00 219.50,623.00 224.39,623.00 229.29,623.00 234.18,623.00 239.07,623.00 243.96,623.00 248.86,623.00 253.75,623.00 258.64,623.00 263.53,623.00 268.43,623.00 273.32,623.00 278.21,623.00 283.11,623.00 288.00,623.00 292.89,623.00 297.78,623.00 302.68,623.00 307.57,623.00 312.46,623.00 317.35,623.00 322.25,623.00 327.14,623.00 332.03,623.00 336.92,623.00 341.82,623.00 346.71,623.00 351.60,623.00 356.50,623.00 361.39,623.00 366.28,599.28 371.17,557.78 376.07,539.99 380.96,528.14 385.85,522.21 390.74,510.35 395.64,510.35 400.53,492.56 405.42,492.56 410.31,492.56 415.21,468.85 420.10,474.77 424.99,498.49 429.89,462.92 434.78,445.13 439.67,474.77 444.56,462.92 449.46,462.92 454.35,462.92 459.24,451.06 464.13,456.99 469.03,445.13 473.92,445.13 478.81,415.49 483.71,403.63 488.60,409.56 493.49,415.49 498.38,409.56 503.28,409.56 508.17,415.49 513.06,427.34 517.95,421.41 522.85,427.34 527.74,433.27 532.63,433.27 537.52,433.27 542.42,433.27 547.31,451.06 552.20,433.27 557.10,421.41 561.99,427.34 566.88,445.13 571.77,439.20 576.67,439.20 581.56,439.20 586.45,445.13 591.34,456.99 596.24,439.20 601.13,433.27 606.02,433.27 610.91,439.20 615.81,427.34 620.70,445.13 625.59,445.13 630.49,433.27 635.38,439.20 640.27,433.27 645.16,445.13 650.06,456.99 654.95,456.99 659.84,456.99 664.73,451.06 669.63,451.06 674.52,451.06 679.41,451.06 684.30,445.13 689.20,468.85 694.09,468.85 698.98,456.99 703.88,456.99 708.77,456.99 713.66,456.99 718.55,468.85 723.45,456.99 728.34,462.92 733.23,462.92 738.12,468.85 743.02,451.06 747.91,451.06 752.80,445.13 757.69,451.06 762.59,445.13 767.48,445.13 772.37,456.99 777.27,456.99 782.16,462.92 787.05,462.92 791.94,474.77 796.84,498.49 801.73,516.28 806.62,623.00 811.51,623.00 816.41,623.00 821.30,623.00 826.19,623.00 831.09,623.00 835.98,623.00 840.87,623.00 845.76,623.00 850.66,623.00 855.55,623.00 860.44,623.00"/>
<polyline stroke="#8c564b" points="163.14,623.00 168.03,623.00 172.92,623.00 177.82,623.00 182.71,623.00 187.60,623.00 192.50,623.00 197.39,623.00 202.28,623.00 207.17,623.00 212.07,623.00 216.96,623.00 221.85,623.00 226.74,623.00 231.64,623.00 236.53,623.00 241.42,623.00 246.31,623.00 251.21,623.00 256.10,623.00 260.99,623.00 265.89,623.00 270.78,623.00 275.67,623.00 280.56,623.00 285.46,623.00 290.35,623.00 295.24,623.00 300.13,623.00 305.03,623.00 309.92,623.00 314.81,623.00 319.71,623.00 324.60,623.00 329.49,623.00 334.38,623.00 339.28,623.00 344.17,623.00 349.06,623.00 353.95,623.00 358.85,623.00 363.74,623.00 368.63,593.36 373.52,569.64 378.42,557.78 383.31,551.85 388.20,534.07 393.10,528.14 397.99,516.28 402.88,510.35 407.77,510.35 412.67,510.35 417.56,510.35 422.45,510.35 427.34,510.35 432.24,516.28 437.13,510.35 442.02,510.35 446.91,534.07 451.81,516.28 456.70,516.28 461.59,504.42 466.49,510.35 471.38,486.63 476.27,480.70 481.16,480.70 486.06,492.56 490.95,492.56 495.84,474.77 500.73,480.70 505.63,474.77 510.52,456.99 515.41,498.49 520.30,486.63 525.20,480.70 530.09,492.56 534.98,486.63 539.88,498.49 544.77,498.49 549.66,504.42 554.55,504.42 559.45,492.56 564.34,504.42 569.23,504.42 574.12,516.28 579.02,498.49 583.91,510.35 588.80,510.35 593.69,516.28 598.59,522.21 603.48,522.21 608.37,510.35 613.27,510.35 618.16,504.42 623.05,504.42 627.94,498.49 632.84,492.56 637.73,510.35 642.62,504.42 647.51,516.28 652.41,522.21 657.30,516.28 662.19,504.42 667.09,504.42 671.98,522.21 676.87,510.35 681.76,510.35 686.66,510.35 691.55,522.21 696.44,516.28 701.33,516.28 706.23,528.14 711.12,510.35 716.01,504.42 720.90,510.35 725.80,516.28 730.69,510.35 735.58,498.49 740.48,504.42 745.37,504.42 750.26,498.49 755.15,498.49 760.05,480.70 764.94,480.70 769.83,492.56 774.72,486.63 779.62,516.28 784.51,522.21 789.40,516.28 794.29,528.14 799.19,545.92 804.08,563.71 808.97,623.00 813.87,623.00 818.76,623.00 823.65,623.00 828.54,623.00 833.44,623.00 838.33,623.00 843.22,623.00 848.11,623.00 853.01,623.00 857.90,623.00 862.79,623.00"/>
<polyline stroke="#e377c2" points="161.09,623.00 165.98,623.00 170.88,623.00 175.77,623.00 180.66,623.00 185.55,623.00 190.45,623.00 195.34,623.00 200.23,623.00 205.12,623.00 210.02,623.00 214.91,623.00 219.80,623.00 224.69,623.00 229.59,623.00 234.48,623.00 239.37,623.00 244.27,623.00 249.16,623.00 254.05,623.00 258.94,623.00 263.84,623.00 268.73,623.00 273.62,623.00 278.51,623.00 283.41,623.00 288.30,623.00 293.19,623.00 298.08,623.00 302.98,623.00 307.87,623.00 312.76,623.00 317.66,623.00 322.55,623.00 327.44,623.00 332.33,623.00 337.23,623.00 342.12,623.00 347.01,623.00 351.90,623.00 356.80,623.00 361.69,623.00 366.58,611.14 371.48,593.36 376.37,581.50 381.26,569.64 386.15,563.71 391.05,557.78 395.94,557.78 400.83,557.78 405.72,528.14 410.62,528.14 415.51,528.14 420.40,528.14 425.29,528.14 430.19,522.21 435.08,534.07 439.97,534.07 444.87,528.14 449.76,534.07 454.65,516.28 459.54,516.28 464.44,504.42 469.33,504.42 474.22,498.49 479.11,498.49 484.01,462.92 488.90,462.92 493.79,474.77 498.68,474.77 503.58,486.63 508.47,474.77 513.36,492.56 518.26,492.56 523.15,492.56 528.04,492.56 532.93,498.49 535.00,520.00 552.00,534.00 560.00,550.00 568.00,569.00 576.00,538.00 584.00,542.00 592.00,553.00 601.00,553.00 608.00,542.00 615.00,525.00 616.11,492.56 621.00,486.63 625.89,474.77 630.79,492.56 635.68,456.99 640.57,474.77 645.47,474.77 650.36,486.63 655.25,486.63 660.14,456.99 665.04,456.99 669.93,456.99 674.82,468.85 679.71,468.85 684.61,462.92 689.50,468.85 694.39,474.77 699.28,474.77 704.18,468.85 709.07,486.63 713.96,486.63 718.86,486.63 723.75,486.63 728.64,480.70 733.53,492.56 738.43,492.56 743.32,504.42 748.21,492.56 753.10,492.56 758.00,486.63 762.89,474.77 767.78,474.77 772.67,492.56 777.57,504.42 782.46,504.42 787.35,510.35 792.25,539.99 797.14,551.85 802.03,563.71 806.92,623.00 811.82,623.00 816.71,623.00 821.60,623.00 826.49,623.00 831.39,623.00 836.28,623.00 841.17,623.00 846.06,623.00 850.96,623.00 855.85,623.00 860.74,623.00"/>
<polyline stroke="#7f7f7f" points="161.33,623.00 166.23,623.00 171.12,623.00 176.01,623.00 180.90,623.00 185.80,623.00 190.69,623.00 195.58,623.00 200.48,623.00 205.37,623.00 210.26,623.00 215.15,623.00 220.05,623.00 224.94,623.00 229.83,623.00 234.72,623.00 239.62,623.00 244.51,623.00 249.40,623.00 254.29,623.00 259.19,623.00 264.08,623.00 268.97,623.00 273.87,623.00 278.76,623.00 283.65,623.00 288.54,623.00 293.44,623.00 298.33,623.00 303.22,623.00 308.11,623.00 313.01,623.00 317.90,623.00 322.79,623.00 327.69,623.00 332.58,623.00 337.47,623.00 342.36,623.00 347.26,623.00 352.15,623.00 357.04,623.00 361.93,623.00 366.83,605.21 371.72,587.43 376.61,569.64 381.50,563.71 386.40,557.78 391.29,551.85 396.18,551.85 401.08,551.85 405.97,539.99 410.86,545.92 415.75,557.78 420.65,551.85 425.54,539.99 430.43,534.07 435.32,534.07 440.22,528.14 445.11,528.14 450.00,516.28 454.89,516.28 459.79,516.28 464.68,510.35 469.57,510.35 474.47,510.35 479.36,486.63 484.25,480.70 489.14,504.42 494.04,462.92 498.93,486.63 503.82,474.77 508.71,480.70 513.61,468.85 518.50,474.77 523.39,474.77 528.28,474.77 533.18,486.63 538.07,480.70 542.96,492.56 547.86,480.70 552.75,480.70 557.64,498.49 562.53,480.70 567.43,486.63 572.32,486.63 577.21,504.42 582.10,498.49 587.00,516.28 591.89,516.28 596.78,510.35 601.68,522.21 606.57,510.35 611.46,516.28 616.35,504.42 621.25,504.42 626.14,504.42 631.03,504.42 635.92,504.42 640.82,498.49 645.71,504.42 650.60,522.21 655.49,504.42 660.39,510.35 665.28,510.35 670.17,516.28 675.07,504.42 679.96,510.35 684.85,510.35 689.74,492.56 694.64,504.42 699.53,480.70 704.42,480.70 709.31,510.35 714.21,510.35 719.10,504.42 723.99,504.42 728.88,486.63 733.78,498.49 738.67,474.77 743.56,480.70 748.46,474.77 753.35,480.70 758.24,492.56 763.13,498.49 768.03,498.49 772.92,486.63 777.81,480.70 782.70,498.49 787.60,516.28 792.49,528.14 797.38,528.14 802.27,539.99 807.17,623.00 812.06,623.00 816.95,623.00 821.85,623.00 826.74,623.00 831.63,623.00 836.52,623.00 841.42,623.00 846.31,623.00 851.20,623.00 856.09,623.00 860.99,623.00"/>
<polyline stroke="#bcbd22" points="163.51,623.00 168.40,623.00 173.29,623.00 178.19,623.00 183.08,623.00 187.97,623.00 192.86,623.00 197.76,623.00 202.65,623.00 207.54,623.00 212.43,623.00 217.33,623.00 222.22,623.00 227.11,623.00 232.00,623.00 236.90,623.00 241.79,623.00 246.68,623.00 251.58,623.00 256.47,623.00 261.36,623.00 266.25,623.00 271.15,623.00 276.04,623.00 280.93,623.00 285.82,623.00 290.72,623.00 295.61,623.00 300.50,623.00 305.39,623.00 310.29,623.00 315.18,623.00 320.07,623.00 324.97,623.00 329.86,623.00 334.75,623.00 339.64,623.00 344.54,623.00 349.43,623.00 354.32,623.00 359.21,623.00 364.11,623.00 369.00,581.50 373.89,563.71 378.79,551.85 383.68,545.92 388.57,539.99 393.46,539.99 398.36,539.99 403.25,528.14 408.14,528.14 413.03,539.99 417.93,539.99 422.82,539.99 427.71,539.99 432.60,528.14 437.50,510.35 442.39,510.35 447.28,522.21 452.18,516.28 457.07,498.49 461.96,498.49 466.85,498.49 471.75,480.70 476.64,480.70 481.53,462.92 486.42,468.85 491.32,468.85 496.21,468.85 501.10,456.99 505.99,456.99 510.89,456.99 515.78,468.85 520.67,468.85 525.57,462.92 530.46,462.92 535.35,480.70 540.24,498.49 545.14,486.63 550.03,486.63 554.92,492.56 559.81,474.77 564.71,486.63 569.60,474.77 574.49,492.56 579.38,492.56 584.28,474.77 589.17,486.63 594.06,492.56 598.96,486.63 603.85,462.92 608.74,474.77 613.63,462.92 618.53,462.92 623.42,456.99 628.31,462.92 633.20,456.99 638.10,480.70 642.99,480.70 647.88,486.63 652.77,480.70 657.67,474.77 662.56,486.63 667.45,486.63 672.35,486.63 677.24,486.63 682.13,498.49 687.02,486.63 691.92,492.56 696.81,498.49 701.70,480.70 706.59,486.63 711.49,492.56 716.38,480.70 721.27,492.56 726.17,510.35 731.06,504.42 735.95,504.42 740.84,516.28 745.74,516.28 750.63,510.35 755.52,510.35 760.41,510.35 765.31,510.35 770.20,522.21 775.09,510.35 779.98,522.21 784.88,516.28 789.77,545.92 794.66,545.92 799.56,557.78 804.45,557.78 809.34,623.00 814.23,623.00 819.13,623.00 824.02,623.00 828.91,623.00 833.80,623.00 838.70,623.00 843.59,623.00 848.48,623.00 853.37,623.00 858.27,623.00 863.16,623.00"/>
<polyline stroke="#17becf" points="161.49,623.00 166.38,623.00 171.28,623.00 176.17,623.00 181.06,623.00 185.95,623.00 190.85,623.00 195.74,623.00 200.63,623.00 205.52,623.00 210.42,623.00 215.31,623.00 220.20,623.00 225.10,623.00 229.99,623.00 234.88,623.00 239.77,623.00 244.67,623.00 249.56,623.00 254.45,623.00 259.34,623.00 264.24,623.00 269.13,623.00 274.02,623.00 278.91,623.00 283.81,623.00 288.70,623.00 293.59,623.00 298.49,623.00 303.38,623.00 308.27,623.00 313.16,623.00 318.06,623.00 322.95,623.00 327.84,623.00 332.73,623.00 337.63,623.00 342.52,623.00 347.41,623.00 352.30,623.00 357.20,623.00 362.09,623.00 366.98,593.36 371.88,569.64 376.77,551.85 381.66,539.99 386.55,528.14 391.45,528.14 396.34,516.28 401.23,504.42 406.12,498.49 411.02,504.42 415.91,504.42 420.80,504.42 425.70,498.49 430.59,498.49 435.48,486.63 440.37,492.56 445.27,498.49 450.16,504.42 455.05,504.42 459.94,486.63 464.84,486.63 469.73,480.70 474.62,480.70 479.51,462.92 484.41,462.92 489.30,462.92 494.19,451.06 499.09,462.92 503.98,474.77 508.87,474.77 513.76,474.77 518.66,480.70 523.55,486.63 528.44,468.85 533.33,480.70 538.23,480.70 543.12,480.70 548.01,480.70 552.90,498.49 557.80,492.56 562.69,486.63 567.58,486.63 572.48,492.56 577.37,492.56 582.26,480.70 587.15,474.77 592.05,486.63 596.94,474.77 601.83,504.42 606.72,486.63 611.62,468.85 616.51,480.70 621.40,480.70 626.29,462.92 631.19,474.77 636.08,468.85 640.97,456.99 645.87,474.77 650.76,468.85 655.65,468.85 660.54,492.56 665.44,486.63 670.33,492.56 675.22,480.70 680.11,480.70 685.01,480.70 689.90,468.85 694.79,480.70 699.68,474.77 704.58,480.70 709.47,486.63 714.36,462.92 719.26,468.85 724.15,456.99 729.04,451.06 733.93,474.77 738.83,474.77 743.72,474.77 748.61,480.70 753.50,486.63 758.40,462.92 763.29,468.85 768.18,474.77 773.08,468.85 777.97,492.56 782.86,480.70 787.75,480.70 792.65,504.42 797.54,528.14 802.43,534.07 807.32,623.00 812.22,623.00 817.11,623.00 822.00,623.00 826.89,623.00 831.79,623.00 836.68,623.00 841.57,623.00 846.47,623.00 851.36,623.00 856.25,623.00 861.14,623.00"/>
<polyline stroke="#1f77b4" points="160.56,623.00 165.45,623.00 170.34,623.00 175.23,623.00 180.13,623.00 185.02,623.00 189.91,623.00 194.80,623.00 199.70,623.00 204.59,623.00 209.48,623.00 214.37,623.00 219.27,623.00 224.16,623.00 229.05,623.00 233.95,623.00 238.84,623.00 243.73,623.00 248.62,623.00 253.52,623.00 258.41,623.00 263.30,623.00 268.19,623.00 273.09,623.00 277.98,623.00 282.87,623.00 287.76,623.00 292.66,623.00 297.55,623.00 302.44,623.00 307.34,623.00 312.23,623.00 317.12,623.00 322.01,623.00 326.91,623.00 331.80,623.00 336.69,623.00 341.58,623.00 346.48,623.00 351.37,623.00 356.26,623.00 361.15,623.00 366.05,617.07 370.94,599.28 375.83,587.43 380.73,575.57 385.62,569.64 390.51,557.78 395.40,551.85 400.30,551.85 405.19,539.99 410.08,539.99 414.97,539.99 419.87,510.35 424.76,522.21 429.65,510.35 434.54,510.35 439.44,504.42 444.33,498.49 449.22,486.63 454.12,492.56 459.01,474.77 463.90,474.77 468.79,468.85 473.69,480.70 478.58,462.92 483.47,468.85 488.36,462.92 493.26,462.92 498.15,480.70 503.04,462.92 507.94,462.92 512.83,468.85 517.72,480.70 522.61,486.63 527.51,474.77 532.40,486.63 537.29,492.56 542.18,504.42 547.08,486.63 551.97,492.56 556.86,504.42 561.75,498.49 566.65,504.42 571.54,480.70 576.43,492.56 581.33,492.56 586.22,480.70 591.11,486.63 596.00,486.63 600.90,498.49 605.79,492.56 610.68,504.42 615.57,504.42 620.47,504.42 625.36,486.63 630.25,504.42 635.14,504.42 640.04,486.63 644.93,498.49 649.82,498.49 654.72,504.42 659.61,516.28 664.50,492.56 669.39,498.49 674.29,516.28 679.18,498.49 684.07,498.49 688.96,498.49 693.86,486.63 698.75,492.56 703.64,528.14 708.53,516.28 713.43,522.21 718.32,516.28 723.21,510.35 728.11,498.49 733.00,522.21 737.89,504.42 742.78,516.28 747.68,510.35 752.57,522.21 757.46,522.21 762.35,492.56 767.25,486.63 772.14,492.56 777.03,492.56 781.93,498.49 786.82,504.42 791.71,534.07 796.60,545.92 801.50,557.78 806.39,623.00 811.28,623.00 816.17,623.00 821.07,623.00 825.96,623.00 830.85,623.00 835.74,623.00 840.64,623.00 845.53,623.00 850.42,623.00 855.32,623.00 860.21,623.00"/>
<polyline stroke="#ff7f0e" points="162.18,623.00 167.07,623.00 171.96,623.00 176.85,623.00 181.75,623.00 186.64,623.00 191.53,623.00 196.42,623.00 201.32,623.00 206.21,623.00 211.10,623.00 215.99,623.00 220.89,623.00 225.78,623.00 230.67,623.00 235.57,623.00 240.46,623.00 245.35,623.00 250.24,623.00 255.14,623.00 260.03,623.00 264.92,623.00 269.81,623.00 274.71,623.00 279.60,623.00 284.49,623.00 289.39,623.00 294.28,623.00 299.17,623.00 304.06,623.00 308.96,623.00 313.85,623.00 318.74,623.00 323.63,623.00 328.53,623.00 333.42,623.00 338.31,623.00 343.20,623.00 348.10,623.00 352.99,623.00 357.88,623.00 362.78,623.00 367.67,599.28 372.56,581.50 377.45,569.64 382.35,557.78 387.24,551.85 392.13,545.92 397.02,539.99 401.92,539.99 406.81,528.14 411.70,522.21 416.59,522.21 421.49,528.14 426.38,528.14 431.27,510.35 436.17,510.35 441.06,504.42 445.95,498.49 450.84,498.49 455.74,486.63 460.63,492.56 465.52,486.63 470.41,492.56 475.31,474.77 480.20,474.77 485.09,445.13 489.98,456.99 494.88,456.99 499.77,456.99 504.66,468.85 509.56,451.06 514.45,451.06 519.34,468.85 524.23,474.77 529.13,474.77 534.02,474.77 538.91,492.56 543.80,492.56 548.70,474.77 553.59,480.70 558.48,480.70 563.38,486.63 568.27,480.70 573.16,492.56 578.05,486.63 582.95,474.77 587.84,480.70 592.73,468.85 597.62,474.77 602.52,492.56 607.41,492.56 612.30,480.70 617.19,486.63 622.09,474.77 626.98,468.85 631.87,480.70 636.77,480.70 641.66,492.56 646.55,474.77 651.44,468.85 656.34,492.56 661.23,492.56 666.12,480.70 671.01,480.70 675.91,468.85 680.80,468.85 685.69,468.85 690.58,468.85 695.48,480.70 700.37,498.49 705.26,468.85 710.16,468.85 715.05,474.77 719.94,480.70 724.83,498.49 729.73,480.70 734.62,492.56 739.51,492.56 744.40,492.56 749.30,480.70 754.19,510.35 759.08,480.70 763.97,474.77 768.87,474.77 773.76,480.70 778.65,480.70 783.55,492.56 788.44,498.49 793.33,510.35 798.22,522.21 803.12,551.85 808.01,623.00 812.90,623.00 817.79,623.00 822.69,623.00 827.58,623.00 832.47,623.00 837.36,623.00 842.26,623.00 847.15,623.00 852.04,623.00 856.94,623.00 861.83,623.00"/>
<polyline stroke="#2ca02c" points="161.02,623.00 165.91,623.00 170.81,623.00 175.70,623.00 180.59,623.00 185.49,623.00 190.38,623.00 195.27,623.00 200.16,623.00 205.06,623.00 209.95,623.00 214.84,623.00 219.73,623.00 224.63,623.00 229.52,623.00 234.41,623.00 239.30,623.00 244.20,623.00 249.09,623.00 253.98,623.00 258.88,623.00 263.77,623.00 268.66,623.00 273.55,623.00 278.45,623.00 283.34,623.00 288.23,623.00 293.12,623.00 298.02,623.00 302.91,623.00 307.80,623.00 312.70,623.00 317.59,623.00 322.48,623.00 327.37,623.00 332.27,623.00 337.16,623.00 342.05,623.00 346.94,623.00 351.84,623.00 356.73,623.00 361.62,623.00 366.51,605.21 371.41,587.43 376.30,569.64 381.19,563.71 386.09,557.78 390.98,545.92 395.87,545.92 400.76,551.85 405.66,545.92 410.55,539.99 415.44,551.85 420.33,551.85 425.23,545.92 430.12,534.07 435.01,539.99 439.90,545.92 444.80,516.28 449.69,545.92 454.58,545.92 459.48,545.92 464.37,545.92 469.26,516.28 474.15,498.49 479.05,498.49 483.94,504.42 488.83,528.14 493.72,498.49 498.62,498.49 503.51,498.49 508.40,498.49 513.29,528.14 518.19,522.21 523.08,522.21 527.97,510.35 532.87,516.28 537.76,516.28 542.65,545.92 547.54,528.14 552.44,522.21 557.33,539.99 562.22,539.99 567.11,545.92 572.01,545.92 576.90,522.21 581.79,545.92 586.69,545.92 591.58,551.85 596.47,557.78 601.36,545.92 606.26,522.21 611.15,522.21 616.04,534.07 620.93,522.21 625.83,522.21 630.72,551.85 635.61,539.99 640.50,539.99 645.40,539.99 650.29,528.14 655.18,528.14 660.08,539.99 664.97,534.07 669.86,534.07 674.75,534.07 679.65,539.99 684.54,539.99 689.43,545.92 694.32,528.14 699.22,551.85 704.11,534.07 709.00,534.07 713.89,534.07 718.79,534.07 723.68,539.99 728.57,545.92 733.47,534.07 738.36,522.21 743.25,528.14 748.14,539.99 753.04,522.21 757.93,528.14 762.82,534.07 767.71,528.14 772.61,522.21 777.50,545.92 782.39,545.92 787.28,545.92 792.18,569.64 797.07,575.57 801.96,581.50 806.86,623.00 811.75,623.00 816.64,623.00 821.53,623.00 826.43,623.00 831.32,623.00 836.21,623.00 841.10,623.00 846.00,623.00 850.89,623.00 855.78,623.00 860.67,623.00"/>
<polyline stroke="#d62728" points="160.95,623.00 165.84,623.00 170.73,623.00 175.63,623.00 180.52,623.00 185.41,623.00 190.30,623.00 195.20,623.00 200.09,623.00 204.98,623.00 209.87,623.00 214.77,623.00 219.66,623.00 224.55,623.00 229.45,623.00 234.34,623.00 239.23,623.00 244.12,623.00 249.02,623.00 253.91,623.00 258.80,623.00 263.69,623.00 268.59,623.00 273.48,623.00 278.37,623.00 283.26,623.00 288.16,623.00 293.05,623.00 297.94,623.00 302.84,623.00 307.73,623.00 312.62,623.00 317.51,623.00 322.41,623.00 327.30,623.00 332.19,623.00 337.08,623.00 341.98,623.00 346.87,623.00 351.76,623.00 356.65,623.00 361.55,623.00 366.44,605.21 371.33,581.50 376.23,563.71 381.12,557.78 386.01,551.85 390.90,551.85 395.80,545.92 400.69,551.85 405.58,534.07 410.47,551.85 415.37,557.78 420.26,557.78 425.15,551.85 430.04,539.99 434.94,539.99 439.83,534.07 444.72,534.07 449.62,539.99 454.51,539.99 459.40,534.07 464.29,522.21 469.19,516.28 474.08,522.21 478.97,504.42 480.00,440.00 485.00,410.00 489.00,396.00 492.00,390.50 497.00,390.50 501.00,405.00 505.00,420.00 510.00,432.00 518.00,445.00 523.01,498.49 527.90,474.77 532.79,504.42 537.68,510.35 542.58,504.42 547.47,510.35 552.36,516.28 557.25,516.28 562.15,516.28 567.04,522.21 571.93,516.28 576.83,516.28 581.72,504.42 586.61,504.42 591.50,504.42 596.40,516.28 601.29,492.56 606.18,504.42 611.07,498.49 615.97,516.28 620.86,510.35 625.75,498.49 630.64,516.28 635.54,504.42 640.43,492.56 645.32,492.56 650.22,492.56 655.11,492.56 660.00,510.35 664.89,510.35 669.79,504.42 674.68,504.42 679.57,510.35 684.46,504.42 689.36,528.14 694.25,510.35 699.14,510.35 704.03,510.35 708.93,504.42 713.82,516.28 718.71,504.42 723.61,522.21 728.50,522.21 733.39,504.42 738.28,504.42 743.18,504.42 748.07,498.49 752.96,510.35 757.85,504.42 762.75,498.49 767.64,504.42 772.53,516.28 777.42,510.35 782.32,516.28 787.21,522.21 792.10,545.92 797.00,551.85 801.89,551.85 806.78,623.00 811.67,623.00 816.57,623.00 821.46,623.00 826.35,623.00 831.24,623.00 836.14,623.00 841.03,623.00 845.92,623.00 850.82,623.00 855.71,623.00 860.60,623.00"/>
<polyline stroke="#9467bd" points="163.40,623.00 168.29,623.00 173.19,623.00 178.08,623.00 182.97,623.00 187.86,623.00 192.76,623.00 197.65,623.00 202.54,623.00 207.43,623.00 212.33,623.00 217.22,623.00 222.11,623.00 227.01,623.00 231.90,623.00 236.79,623.00 241.68,623.00 246.58,623.00 251.47,623.00 256.36,623.00 261.25,623.00 266.15,623.00 271.04,623.00 275.93,623.00 280.83,623.00 285.72,623.00 290.61,623.00 295.50,623.00 300.40,623.00 305.29,623.00 310.18,623.00 315.07,623.00 319.97,623.00 324.86,623.00 329.75,623.00 334.64,623.00 339.54,623.00 344.43,623.00 349.32,623.00 354.22,623.00 359.11,623.00 364.00,623.00 368.89,593.36 373.79,575.57 378.68,563.71 383.57,551.85 388.46,545.92 393.36,534.07 398.25,539.99 403.14,539.99 408.03,545.92 412.93,539.99 417.82,534.07 422.71,534.07 427.61,534.07 432.50,510.35 437.39,498.49 442.28,492.56 447.18,492.56 452.07,516.28 456.96,504.42 461.85,498.49 466.75,480.70 471.64,498.49 476.53,480.70 481.42,474.77 486.32,468.85 491.21,462.92 496.10,474.77 501.00,468.85 505.89,480.70 510.78,480.70 515.67,474.77 520.57,474.77 525.46,480.70 530.35,468.85 535.24,456.99 540.14,456.99 545.03,456.99 549.92,456.99 554.81,445.13 559.71,456.99 564.60,456.99 569.49,451.06 574.39,451.06 579.28,451.06 584.17,451.06 589.06,451.06 593.96,462.92 598.85,474.77 603.74,456.99 608.63,456.99 613.53,462.92 618.42,456.99 623.31,462.92 628.21,474.77 633.10,468.85 637.99,474.77 642.88,480.70 647.78,480.70 652.67,462.92 657.56,474.77 662.45,468.85 667.35,468.85 672.24,468.85 677.13,480.70 682.02,480.70 686.92,451.06 691.81,474.77 696.70,456.99 701.60,456.99 706.49,462.92 711.38,456.99 716.27,468.85 721.17,474.77 726.06,468.85 730.95,474.77 735.84,468.85 740.74,451.06 745.63,451.06 750.52,480.70 755.41,480.70 760.31,480.70 765.20,445.13 770.09,456.99 774.99,445.13 779.88,462.92 784.77,480.70 789.66,486.63 794.56,480.70 799.45,516.28 804.34,539.99 809.23,623.00 814.13,623.00 819.02,623.00 823.91,623.00 828.80,623.00 833.70,623.00 838.59,623.00 843.48,623.00 848.38,623.00 853.27,623.00 858.16,623.00 863.05,623.00"/>
<polyline stroke="#8c564b" points="164.51,623.00 169.40,623.00 174.29,623.00 179.19,623.00 184.08,623.00 188.97,623.00 193.86,623.00 198.76,623.00 203.65,623.00 208.54,623.00 213.43,623.00 218.33,623.00 223.22,623.00 228.11,623.00 233.00,623.00 237.90,623.00 242.79,623.00 247.68,623.00 252.58,623.00 257.47,623.00 262.36,623.00 267.25,623.00 272.15,623.00 277.04,623.00 281.93,623.00 286.82,623.00 291.72,623.00 296.61,623.00 301.50,623.00 306.39,623.00 311.29,623.00 316.18,623.00 321.07,623.00 325.97,623.00 330.86,623.00 335.75,623.00 340.64,623.00 345.54,623.00 350.43,623.00 355.32,623.00 360.21,623.00 365.11,623.00 370.00,605.21 374.89,587.43 379.78,581.50 384.68,575.57 389.57,569.64 394.46,563.71 399.36,557.78 404.25,557.78 409.14,551.85 414.03,545.92 418.93,545.92 423.82,545.92 428.71,551.85 433.60,534.07 438.50,534.07 443.39,522.21 448.28,528.14 453.18,522.21 458.07,522.21 462.96,504.42 467.85,522.21 472.75,522.21 477.64,480.70 482.53,492.56 487.42,480.70 492.32,486.63 497.21,486.63 502.10,486.63 506.99,486.63 511.89,504.42 516.78,516.28 521.67,516.28 526.57,516.28 531.46,516.28 536.35,539.99 541.24,528.14 546.14,516.28 551.03,516.28 555.92,522.21 560.81,539.99 565.71,545.92 570.60,522.21 575.49,539.99 580.38,522.21 585.28,539.99 590.17,510.35 595.06,516.28 599.96,510.35 604.85,510.35 609.74,516.28 614.63,516.28 619.53,522.21 624.42,504.42 629.31,504.42 634.20,504.42 639.10,510.35 643.99,510.35 648.88,510.35 653.77,522.21 658.67,510.35 663.56,528.14 668.45,534.07 673.35,498.49 678.24,516.28 683.13,528.14 688.02,528.14 692.92,522.21 697.81,534.07 702.70,534.07 707.59,522.21 712.49,528.14 717.38,528.14 722.27,522.21 727.16,528.14 732.06,534.07 736.95,534.07 741.84,534.07 746.74,545.92 751.63,534.07 756.52,557.78 761.41,539.99 766.31,539.99 771.20,557.78 776.09,557.78 780.98,557.78 785.88,569.64 790.77,551.85 795.66,563.71 800.56,581.50 805.45,587.43 810.34,623.00 815.23,623.00 820.13,623.00 825.02,623.00 829.91,623.00 834.80,623.00 839.70,623.00 844.59,623.00 849.48,623.00 854.37,623.00 859.27,623.00 864.16,623.00"/>
<polyline stroke="#e377c2" points="355.61,623.00 360.50,623.00 365.39,623.00 370.29,593.36 375.18,581.50 380.07,569.64 384.96,557.78 389.86,551.85 394.75,528.14 399.64,528.14 404.53,522.21 409.43,510.35 414.32,522.21 419.21,516.28 424.11,522.21 429.00,510.35 433.89,510.35 438.78,504.42 443.68,504.42 448.57,474.77 453.46,486.63 458.35,480.70 463.25,474.77 468.14,468.85 473.03,462.92 477.93,445.13 482.82,439.20 487.71,439.20 492.60,451.06 497.50,456.99 502.39,462.92 507.28,468.85 512.17,480.70 517.07,451.06 521.96,462.92 526.85,468.85 531.74,474.77 536.64,474.77 541.53,480.70 546.42,498.49 551.32,474.77 556.21,480.70 561.10,486.63 565.99,498.49 570.89,498.49 575.00,440.00 580.00,423.00 583.00,435.00 586.00,440.00 592.00,445.00 600.00,442.00 605.00,440.00 609.00,445.00 616.00,447.00 624.00,445.00 630.00,440.00 640.00,439.00 648.00,445.00 649.17,498.49 654.06,498.49 658.95,498.49 663.85,486.63 668.74,486.63 673.63,510.35 678.52,510.35 683.42,510.35 688.31,498.49 693.20,486.63 698.10,486.63 702.99,480.70 707.88,480.70 712.77,480.70 717.67,468.85 722.56,474.77 727.45,474.77 732.34,474.77 737.24,474.77 742.13,480.70 747.02,468.85 751.91,480.70 756.81,480.70 761.70,468.85 766.59,474.77 771.49,474.77 776.38,486.63 781.27,486.63 786.16,498.49 791.06,486.63 795.95,516.28 800.84,534.07 805.73,557.78 810.63,623.00 815.52,623.00 820.41,623.00 825.31,623.00 830.20,623.00 835.09,623.00 839.98,623.00 844.88,623.00 849.77,623.00 854.66,623.00 859.55,623.00 864.45,623.00"/>
<polyline stroke="#7f7f7f" points="404.51,623.00 409.40,623.00 414.29,623.00 419.18,590.66 424.08,547.54 428.97,510.35 433.86,498.49 438.76,522.21 443.65,534.07 448.54,516.28 453.43,528.14 458.33,510.35 463.22,516.28 468.11,504.42 473.00,510.35 477.90,492.56 482.79,492.56 487.68,486.63 492.57,492.56 497.47,486.63 502.36,474.77 507.25,480.70 512.15,480.70 517.04,486.63 521.93,492.56 526.82,492.56 531.72,492.56 536.61,492.56 541.50,492.56 546.39,486.63 551.29,480.70 556.18,480.70 561.07,504.42 565.96,504.42 570.86,522.21 575.75,504.42 580.64,498.49 585.54,510.35 590.43,510.35 595.32,522.21 600.21,522.21 605.11,522.21 610.00,534.07 614.89,516.28 619.78,534.07 624.68,534.07 629.57,534.07 634.46,528.14 639.35,539.99 644.25,539.99 649.14,534.07 654.03,528.14 658.93,510.35 663.82,510.35 668.71,510.35 673.60,522.21 678.50,522.21 683.39,498.49 688.28,522.21 693.17,522.21 698.07,510.35 702.96,522.21 707.85,528.14 712.74,528.14 717.64,516.28 722.53,522.21 727.42,510.35 732.32,522.21 737.21,522.21 742.10,522.21 746.99,528.14 751.89,528.14 756.78,522.21 761.67,528.14 766.56,522.21 771.46,528.14 776.35,551.85 781.24,545.92 786.14,557.78 791.03,563.71 795.92,593.36 800.81,605.21 805.71,599.28 810.60,623.00 815.49,623.00 820.38,623.00 825.28,623.00 830.17,623.00 835.06,623.00 839.95,623.00 844.85,623.00 849.74,623.00 854.63,623.00 859.53,623.00 864.42,623.00"/>
<polyline stroke="#bcbd22" points="336.53,623.00 341.42,623.00 346.31,623.00 351.20,623.00 356.10,623.00 360.99,623.00 365.88,611.14 370.78,581.50 375.67,563.71 380.56,551.85 385.45,545.92 390.35,545.92 395.24,545.92 400.13,528.14 405.02,516.28 409.92,528.14 414.81,522.21 419.70,522.21 424.59,504.42 429.49,504.42 434.38,486.63 439.27,492.56 444.17,492.56 449.06,492.56 453.95,486.63 458.84,486.63 463.74,492.56 468.63,468.85 473.52,462.92 478.41,480.70 483.31,474.77 488.20,474.77 493.09,474.77 497.99,468.85 502.88,468.85 507.77,468.85 512.66,462.92 517.56,462.92 522.45,474.77 527.34,474.77 532.23,480.70 537.13,474.77 542.02,474.77 546.91,486.63 551.80,486.63 556.70,486.63 561.59,486.63 566.48,486.63 571.38,498.49 576.27,504.42 581.16,480.70 586.05,480.70 590.95,486.63 595.84,486.63 600.73,498.49 605.62,492.56 610.52,480.70 615.41,468.85 620.30,468.85 625.19,468.85 630.09,456.99 634.98,462.92 639.87,462.92 644.77,474.77 649.66,474.77 654.55,498.49 659.44,498.49 664.34,474.77 669.23,480.70 674.12,486.63 679.01,486.63 683.91,468.85 688.80,480.70 693.69,492.56 698.58,492.56 703.48,498.49 708.37,486.63 713.26,480.70 718.16,468.85 723.05,474.77 727.94,474.77 732.83,474.77 737.73,480.70 742.62,480.70 747.51,480.70 752.40,516.28 757.30,510.35 762.19,510.35 767.08,534.07 771.97,516.28 776.87,534.07 781.76,528.14 786.65,522.21 791.55,528.14 796.44,534.07 801.33,557.78 806.22,623.00 811.12,623.00 816.01,623.00 820.90,623.00 825.79,623.00 830.69,623.00 835.58,623.00 840.47,623.00 845.37,623.00 850.26,623.00 855.15,623.00 860.04,623.00"/>
</g>
<rect x="163" y="621" width="1" height="1" fill="#a7898f"/>
<rect x="164" y="621" width="1" height="1" fill="#88846a"/>
<rect x="165" y="621" width="1" height="1" fill="#876754"/>
<rect x="166" y="621" width="1" height="1" fill="#8d7162"/>
<rect x="167" y="621" width="1" height="1" fill="#a19388"/>
<rect x="168" y="621" width="79" height="1" fill="#a49990"/>
<rect x="247" y="621" width="1" height="1" fill="#a3988e"/>
<rect x="248" y="621" width="1" height="1" fill="#897e74"/>
<rect x="249" y="621" width="1" height="1" fill="#a3988e"/>
<rect x="250" y="621" width="85" height="1" fill="#a49990"/>
<rect x="335" y="621" width="1" height="1" fill="#a3988c"/>
<rect x="336" y="621" width="1" height="1" fill="#8a7f72"/>
<rect x="337" y="621" width="1" height="1" fill="#a3988b"/>
<rect x="338" y="621" width="16" height="1" fill="#a4998d"/>
<rect x="354" y="621" width="1" height="1" fill="#a4988d"/>
<rect x="355" y="621" width="5" height="1" fill="#a5988e"/>
<rect x="360" y="621" width="1" height="1" fill="#a3855e"/>
<rect x="361" y="621" width="1" height="1" fill="#a38b36"/>
<rect x="362" y="621" width="1" height="1" fill="#a67f33"/>
<rect x="363" y="621" width="1" height="1" fill="#a07575"/>
<rect x="364" y="621" width="1" height="1" fill="#a9717d"/>
<rect x="365" y="621" width="1" height="1" fill="#b37586"/>
<rect x="806" y="621" width="1" height="1" fill="#a28c34"/>
<rect x="807" y="621" width="1" height="1" fill="#9d713b"/>
<rect x="808" y="621" width="1" height="1" fill="#ad776e"/>
<rect x="809" y="621" width="1" height="1" fill="#97747a"/>
<rect x="810" y="621" width="1" height="1" fill="#987a7f"/>
<rect x="811" y="621" width="1" height="1" fill="#948277"/>
<rect x="812" y="621" width="47" height="1" fill="#a4978d"/>
<rect x="859" y="621" width="2" height="1" fill="#a5998d"/>
<rect x="861" y="621" width="1" height="1" fill="#ac9e96"/>
<rect x="862" y="621" width="1" height="1" fill="#beb1a5"/>
<rect x="863" y="621" width="1" height="1" fill="#cdc5bd"/>
<rect x="864" y="621" width="1" height="1" fill="#dedcda"/>
<rect x="865" y="621" width="1" height="1" fill="#a8aaa8"/>
<rect x="866" y="621" width="1" height="1" fill="#fafafa"/>
<g clip-path="url(#ax)" fill="none" stroke="#000" stroke-width="2.7778" stroke-linejoin="round" stroke-linecap="butt">
<path d="M160.23 601.44L162.00 617.02"/>
<polyline points="162.50,621.47 162.67,623.00 165.12,623.00 167.57,623.00 170.01,623.00 171.38,623.00"/>
<polyline points="175.86,623.00 177.35,623.00 179.80,623.00 182.24,623.00 184.69,623.00 186.10,623.00"/>
<polyline points="190.58,623.00 192.03,623.00 194.48,623.00 196.92,623.00 199.37,623.00 200.82,623.00"/>
<polyline points="205.30,623.00 206.71,623.00 209.15,623.00 211.60,623.00 214.05,623.00 215.54,623.00"/>
<polyline points="220.02,623.00 221.39,623.00 223.83,623.00 226.28,623.00 228.72,623.00 230.26,623.00"/>
<polyline points="234.74,623.00 236.06,623.00 238.51,623.00 240.96,623.00 243.40,623.00 244.98,623.00"/>
<polyline points="249.46,623.00 250.74,623.00 253.19,623.00 255.63,623.00 258.08,623.00 259.70,623.00"/>
<polyline points="264.18,623.00 265.42,623.00 267.87,623.00 270.31,623.00 272.76,623.00 274.42,623.00"/>
<polyline points="278.90,623.00 280.10,623.00 282.54,623.00 284.99,623.00 287.44,623.00 289.14,623.00"/>
<polyline points="293.62,623.00 294.78,623.00 297.22,623.00 299.67,623.00 302.11,623.00 303.86,623.00"/>
<polyline points="308.34,623.00 309.45,623.00 311.90,623.00 314.35,623.00 316.79,623.00 318.60,623.00"/>
<polyline points="323.06,623.00 324.13,623.00 326.58,623.00 329.02,623.00 331.47,623.00 333.32,623.00"/>
<polyline points="337.78,623.00 338.81,623.00 341.26,623.00 343.70,623.00 346.15,623.00 348.04,623.00"/>
<polyline points="352.50,623.00 353.49,623.00 355.93,623.00 358.38,623.00 360.83,623.00 362.76,623.00"/>
<polyline points="364.18,619.19 365.72,612.74 366.36,609.22"/>
<polyline points="367.15,604.85 368.17,599.26 369.16,594.86"/>
<polyline points="370.13,590.54 370.61,588.39 372.60,580.65"/>
<polyline points="374.18,576.52 375.51,573.74 377.95,567.62 378.15,567.13"/>
<polyline points="379.80,563.01 380.40,561.51 382.84,556.00 383.99,553.71"/>
<polyline points="386.00,549.75 387.74,546.40 390.18,541.50 390.63,540.67"/>
<polyline points="392.83,536.83 395.08,535.04 397.52,533.08 399.97,531.13 400.86,530.38"/>
<polyline points="404.22,527.36 404.86,526.75 407.31,526.26 409.75,525.77 412.20,525.28 413.74,524.75"/>
<polyline points="417.51,522.91 419.54,521.73 421.99,520.32 424.43,518.91 426.18,517.21"/>
<polyline points="429.01,513.23 429.32,512.75 431.77,509.96 434.22,507.18 435.57,505.74"/>
<polyline points="438.61,503.56 439.11,503.30 441.56,502.04 444.00,500.77 446.14,499.27"/>
<polyline points="448.92,496.71 451.34,495.05 453.79,493.36 456.23,491.68 456.52,491.37"/>
<polyline points="459.47,488.26 461.13,486.81 463.57,485.01 466.02,483.22 466.94,482.07"/>
<polyline points="469.57,478.82 470.91,477.19 473.36,474.92 475.80,472.65 476.61,471.94"/>
<polyline points="479.96,469.09 480.70,468.48 483.14,466.64 485.59,464.81 487.89,463.09"/>
<polyline points="491.75,461.47 492.93,461.21 495.38,461.75 497.82,462.29 500.27,462.84 501.33,463.16"/>
<polyline points="505.45,464.47 507.61,465.05 510.05,465.70 512.50,466.34 514.95,466.99 515.29,467.09"/>
<polyline points="519.64,468.39 519.84,468.45 522.29,469.39 524.73,470.34 527.18,471.29 529.20,472.05"/>
<polyline points="533.29,473.61 534.52,474.20 536.96,475.88 539.41,477.56 541.58,478.99"/>
<polyline points="545.46,480.59 546.75,480.80 549.20,480.42 551.64,480.03 554.09,479.64 555.30,479.91"/>
<polyline points="559.37,481.58 561.43,483.17 563.87,485.29 566.32,487.41 567.09,488.23"/>
<polyline points="570.35,491.23 571.21,491.89 573.66,491.50 576.10,491.12 578.55,490.73 580.25,490.71"/>
<polyline points="584.64,491.51 585.89,491.85 588.34,492.80 590.78,493.75 593.23,494.70 594.24,494.75"/>
<polyline points="598.58,494.51 600.57,494.15 603.01,493.61 605.46,493.06 607.91,492.52 608.63,492.46"/>
<polyline points="613.15,492.04 615.25,491.71 617.69,491.13 620.14,490.56 622.59,490.01 622.92,490.05"/>
<polyline points="627.06,490.52 627.48,490.58 629.92,490.96 632.37,491.35 634.82,491.73 636.79,492.19"/>
<polyline points="640.96,493.69 642.16,494.07 644.60,494.34 647.05,494.62 649.49,494.89 650.86,494.95"/>
<polyline points="655.12,495.00 656.83,495.00 659.28,495.00 661.73,495.00 664.17,495.00 665.09,494.86"/>
<polyline points="669.48,494.10 671.51,493.75 673.96,493.34 676.40,492.93 678.85,492.52 679.48,492.64"/>
<polyline points="683.78,493.45 686.19,493.85 688.64,494.23 691.08,494.62 693.53,495.01 693.62,495.03"/>
<polyline points="697.83,495.87 698.42,495.98 700.87,495.85 703.31,495.72 705.76,495.59 707.65,495.52"/>
<polyline points="711.95,495.43 713.10,495.36 715.55,494.78 717.99,494.21 720.44,493.63 721.06,493.73"/>
<polyline points="724.74,494.69 725.33,494.89 727.78,496.04 730.22,497.19 732.67,498.34 733.53,498.13"/>
<polyline points="737.84,496.83 740.01,496.75 742.46,497.16 744.90,497.57 747.35,497.97 748.04,497.98"/>
<polyline points="752.46,497.98 754.69,497.72 757.13,497.31 759.58,496.90 762.03,496.51 762.55,496.81"/>
<polyline points="766.47,499.01 766.92,499.27 769.37,500.85 771.81,502.44 774.26,504.02 774.91,504.67"/>
<polyline points="777.89,507.88 779.15,509.34 781.60,512.20 784.04,515.07 784.33,515.55"/>
<polyline points="786.56,519.29 788.94,524.07 790.96,528.32"/>
<polyline points="792.73,532.30 793.83,534.84 796.28,540.87 796.50,541.58"/>
<polyline points="797.82,545.73 798.72,548.55 800.47,555.42"/>
<polyline points="801.51,559.65 803.61,568.89 803.73,569.42"/>
<polyline points="804.64,573.70 806.06,580.38 806.49,583.55"/>
<path d="M807.08 587.87L808.44 597.81"/>
<path d="M809.15 602.11L810.82 611.99"/>
<polyline points="812.74,615.86 813.40,617.00 815.85,617.00 818.29,617.00 820.74,617.00 822.13,617.00"/>
<polyline points="826.49,617.00 828.08,617.00 830.52,617.00 832.97,617.00 835.42,617.00 836.67,617.00"/>
<polyline points="841.19,617.00 842.76,617.00 845.20,617.00 847.65,617.00 850.09,617.00 851.49,617.00"/>
<polyline points="855.95,617.00 857.43,617.00 859.88,617.00 862.33,617.00 864.77,617.00"/>
</g>
<rect x="125.5" y="84.5" width="775" height="539" fill="none" stroke="#000" stroke-width="1.1111"/>
<text transform="translate(148.658 670.018) rotate(-45)" style="font-size:13.8889px;font-family:'DejaVu Sans','Liberation Sans',sans-serif">00:00</text>
<text transform="translate(236.779 669.850) rotate(-45)" style="font-size:13.8889px;font-family:'DejaVu Sans','Liberation Sans',sans-serif">03:00</text>
<text transform="translate(324.839 669.841) rotate(-45)" style="font-size:13.8889px;font-family:'DejaVu Sans','Liberation Sans',sans-serif">06:00</text>
<text transform="translate(412.821 669.841) rotate(-45)" style="font-size:13.8889px;font-family:'DejaVu Sans','Liberation Sans',sans-serif">09:00</text>
<text transform="translate(501.161 670.444) rotate(-45)" style="font-size:13.8889px;font-family:'DejaVu Sans','Liberation Sans',sans-serif">12:00</text>
<text transform="translate(589.140 670.529) rotate(-45)" style="font-size:13.8889px;font-family:'DejaVu Sans','Liberation Sans',sans-serif">15:00</text>
<text transform="translate(677.183 670.481) rotate(-45)" style="font-size:13.8889px;font-family:'DejaVu Sans','Liberation Sans',sans-serif">18:00</text>
<text transform="translate(764.827 669.768) rotate(-45)" style="font-size:13.8889px;font-family:'DejaVu Sans','Liberation Sans',sans-serif">21:00</text>
<text transform="translate(853.663 669.981) rotate(-45)" style="font-size:13.8889px;font-family:'DejaVu Sans','Liberation Sans',sans-serif">24:00</text>
<text x="115.763" y="627.690" text-anchor="end" style="font-size:13.8889px;font-family:'DejaVu Sans','Liberation Sans',sans-serif">0</text>
<text x="115.759" y="520.752" text-anchor="end" style="font-size:13.8889px;font-family:'DejaVu Sans','Liberation Sans',sans-serif">20</text>
<text x="115.152" y="412.754" text-anchor="end" style="font-size:13.8889px;font-family:'DejaVu Sans','Liberation Sans',sans-serif">40</text>
<text x="115.813" y="305.372" text-anchor="end" style="font-size:13.8889px;font-family:'DejaVu Sans','Liberation Sans',sans-serif">60</text>
<text x="115.755" y="197.426" text-anchor="end" style="font-size:13.8889px;font-family:'DejaVu Sans','Liberation Sans',sans-serif">80</text>
<text x="114.849" y="89.594" text-anchor="end" style="font-size:13.8889px;font-family:'DejaVu Sans','Liberation Sans',sans-serif">100</text>
<text x="512.400" y="686.922" text-anchor="middle" style="font-size:13.8889px;font-family:'DejaVu Sans','Liberation Sans',sans-serif">Time of Day (Seconds Since Midnight)</text>
<text x="78.745" y="353.650" text-anchor="middle" transform="rotate(-90 78.745 353.650)" style="font-size:13.8889px;font-family:'DejaVu Sans','Liberation Sans',sans-serif">Occupancy Percentage</text>
<text x="513.460" y="75.791" text-anchor="middle" style="font-size:16.6667px;font-family:'DejaVu Sans','Liberation Sans',sans-serif">Data for Saturday</text>
<rect x="718.5" y="91.5" width="175" height="25" rx="2.7778" ry="2.7778" fill="#fff" stroke="#ccc" stroke-width="1.3889" opacity="0.8"/>
<path d="M723.5 103.5H751.28" fill="none" stroke="#000" stroke-width="2.7778" stroke-dasharray="10.2778,4.4444"/>
<text x="762.487" y="107.085" style="font-size:13.8889px;font-family:'DejaVu Sans','Liberation Sans',sans-serif">Weekday Average</text>
</svg>
</body></html>
